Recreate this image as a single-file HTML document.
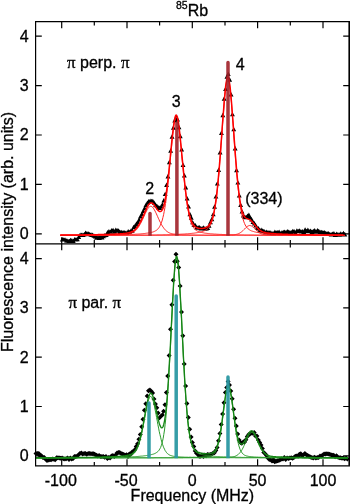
<!DOCTYPE html>
<html lang="en"><head><meta charset="utf-8"><title>85Rb fluorescence spectra</title>
<style>html,body{margin:0;padding:0;background:#fff}svg{display:block}</style></head>
<body>
<svg width="350" height="504" viewBox="0 0 350 504">
<rect width="350" height="504" fill="#fff"/>
<path fill="#000" d="M59.9,241.4L64.8,241.4L62.3,237.0ZM61.2,241.6L66.1,241.6L63.7,237.2ZM62.6,241.6L67.5,241.6L65.0,237.2ZM64.0,242.6L68.9,242.6L66.4,238.2ZM65.3,242.8L70.2,242.8L67.8,238.4ZM66.7,243.1L71.6,243.1L69.2,238.7ZM68.1,242.1L73.0,242.1L70.5,237.7ZM69.5,242.4L74.4,242.4L71.9,238.0ZM70.8,243.1L75.7,243.1L73.3,238.7ZM72.2,241.5L77.1,241.5L74.6,237.1ZM73.6,241.4L78.5,241.4L76.0,237.0ZM74.9,241.3L79.8,241.3L77.4,236.9ZM76.3,238.9L81.2,238.9L78.8,234.5ZM77.7,237.0L82.6,237.0L80.1,232.6ZM79.1,237.0L84.0,237.0L81.5,232.6ZM80.4,237.0L85.3,237.0L82.9,232.6ZM81.8,236.4L86.7,236.4L84.3,232.0ZM83.2,234.9L88.1,234.9L85.6,230.5ZM84.5,235.5L89.4,235.5L87.0,231.1ZM85.9,235.7L90.8,235.7L88.4,231.3ZM87.3,236.2L92.2,236.2L89.7,231.8ZM88.7,236.7L93.6,236.7L91.1,232.3ZM90.0,236.9L94.9,236.9L92.5,232.5ZM91.4,237.8L96.3,237.8L93.9,233.3ZM92.8,238.6L97.7,238.6L95.2,234.2ZM94.1,239.8L99.0,239.8L96.6,235.4ZM95.5,239.2L100.4,239.2L98.0,234.8ZM96.9,239.9L101.8,239.9L99.3,235.5ZM98.3,238.7L103.2,238.7L100.7,234.3ZM99.6,239.6L104.5,239.6L102.1,235.2ZM101.0,238.2L105.9,238.2L103.5,233.8ZM102.4,237.3L107.3,237.3L104.8,232.9ZM103.8,237.1L108.7,237.1L106.2,232.7ZM105.1,234.3L110.0,234.3L107.6,229.9ZM106.5,233.5L111.4,233.5L108.9,229.1ZM107.9,233.8L112.8,233.8L110.3,229.4ZM109.2,232.4L114.1,232.4L111.7,228.0ZM110.6,232.2L115.5,232.2L113.1,227.7ZM112.0,233.7L116.9,233.7L114.4,229.3ZM113.4,231.9L118.3,231.9L115.8,227.5ZM114.7,232.4L119.6,232.4L117.2,227.9ZM116.1,232.7L121.0,232.7L118.5,228.3ZM117.5,233.9L122.4,233.9L119.9,229.5ZM118.8,234.1L123.7,234.1L121.3,229.7ZM120.2,234.6L125.1,234.6L122.7,230.2ZM121.6,234.1L126.5,234.1L124.0,229.7ZM123.0,234.8L127.9,234.8L125.4,230.4ZM124.3,234.9L129.2,234.9L126.8,230.4ZM125.7,233.5L130.6,233.5L128.2,229.1ZM127.1,234.1L132.0,234.1L129.5,229.7ZM128.4,233.0L133.3,233.0L130.9,228.6ZM129.8,232.7L134.7,232.7L132.3,228.3ZM131.2,229.2L136.1,229.2L133.6,224.8ZM132.6,228.0L137.5,228.0L135.0,223.6ZM133.9,226.0L138.8,226.0L136.4,221.6ZM135.3,224.1L140.2,224.1L137.8,219.7ZM136.7,221.8L141.6,221.8L139.1,217.4ZM138.0,218.5L142.9,218.5L140.5,214.1ZM139.4,215.9L144.3,215.9L141.9,211.5ZM140.8,213.1L145.7,213.1L143.2,208.7ZM142.2,210.2L147.1,210.2L144.6,205.7ZM143.5,207.0L148.4,207.0L146.0,202.6ZM144.9,204.8L149.8,204.8L147.4,200.4ZM146.3,203.4L151.2,203.4L148.7,199.0ZM147.7,202.9L152.6,202.9L150.1,198.5ZM149.0,203.1L153.9,203.1L151.5,198.7ZM150.4,203.1L155.3,203.1L152.8,198.7ZM151.8,204.8L156.7,204.8L154.2,200.4ZM153.1,206.8L158.0,206.8L155.6,202.4ZM154.5,208.1L159.4,208.1L157.0,203.7ZM155.9,209.5L160.8,209.5L158.3,205.1ZM157.3,209.9L162.2,209.9L159.7,205.5ZM158.6,208.6L163.5,208.6L161.1,204.2ZM160.0,206.6L164.9,206.6L162.4,202.2ZM161.4,202.4L166.3,202.4L163.8,198.0ZM162.7,196.1L167.6,196.1L165.2,191.7ZM164.1,187.0L169.0,187.0L166.6,182.6ZM165.5,178.5L170.4,178.5L167.9,174.1ZM166.9,164.2L171.8,164.2L169.3,159.8ZM168.2,152.7L173.1,152.7L170.7,148.2ZM169.6,138.8L174.5,138.8L172.0,134.3ZM171.0,129.7L175.9,129.7L173.4,125.3ZM172.3,122.4L177.2,122.4L174.8,118.0ZM173.7,119.4L178.6,119.4L176.2,115.0ZM175.1,121.5L180.0,121.5L177.5,117.1ZM176.5,129.3L181.4,129.3L178.9,124.8ZM177.8,138.2L182.7,138.2L180.3,133.8ZM179.2,151.4L184.1,151.4L181.7,147.0ZM180.6,166.9L185.5,166.9L183.0,162.5ZM181.9,177.5L186.8,177.5L184.4,173.1ZM183.3,189.4L188.2,189.4L185.8,185.0ZM184.7,200.4L189.6,200.4L187.1,196.0ZM186.1,208.5L191.0,208.5L188.5,204.1ZM187.4,216.2L192.3,216.2L189.9,211.8ZM188.8,219.7L193.7,219.7L191.3,215.3ZM190.2,224.3L195.1,224.3L192.6,219.9ZM191.5,226.9L196.4,226.9L194.0,222.5ZM192.9,227.3L197.8,227.3L195.4,222.9ZM194.3,229.7L199.2,229.7L196.7,225.3ZM195.7,229.4L200.6,229.4L198.1,224.9ZM197.0,229.5L201.9,229.5L199.5,225.1ZM198.4,230.5L203.3,230.5L200.9,226.1ZM199.8,230.4L204.7,230.4L202.2,226.0ZM201.2,229.7L206.1,229.7L203.6,225.3ZM202.5,230.7L207.4,230.7L205.0,226.3ZM203.9,230.5L208.8,230.5L206.3,226.1ZM205.3,230.1L210.2,230.1L207.7,225.7ZM206.6,227.8L211.5,227.8L209.1,223.4ZM208.0,224.2L212.9,224.2L210.5,219.8ZM209.4,221.3L214.3,221.3L211.8,216.8ZM210.8,216.3L215.7,216.3L213.2,211.9ZM212.1,208.8L217.0,208.8L214.6,204.3ZM213.5,198.6L218.4,198.6L215.9,194.2ZM214.9,185.6L219.8,185.6L217.3,181.2ZM216.2,172.0L221.1,172.0L218.7,167.6ZM217.6,154.5L222.5,154.5L220.1,150.1ZM219.0,135.0L223.9,135.0L221.4,130.6ZM220.4,117.2L225.3,117.2L222.8,112.8ZM221.7,100.7L226.6,100.7L224.2,96.3ZM223.1,91.0L228.0,91.0L225.6,86.6ZM224.5,78.7L229.4,78.7L226.9,74.3ZM225.8,75.9L230.7,75.9L228.3,71.5ZM227.2,81.7L232.1,81.7L229.7,77.3ZM228.6,96.4L233.5,96.4L231.0,91.9ZM230.0,116.3L234.9,116.3L232.4,111.9ZM231.3,131.3L236.2,131.3L233.8,126.9ZM232.7,150.5L237.6,150.5L235.2,146.1ZM234.1,172.2L239.0,172.2L236.5,167.8ZM235.4,184.6L240.3,184.6L237.9,180.2ZM236.8,197.5L241.7,197.5L239.3,193.1ZM238.2,207.0L243.1,207.0L240.6,202.6ZM239.6,213.6L244.5,213.6L242.0,209.2ZM240.9,217.6L245.8,217.6L243.4,213.2ZM242.3,219.0L247.2,219.0L244.8,214.6ZM243.7,219.3L248.6,219.3L246.1,214.9ZM245.0,217.9L249.9,217.9L247.5,213.5ZM246.4,217.0L251.3,217.0L248.9,212.6ZM247.8,219.3L252.7,219.3L250.2,214.9ZM249.2,221.4L254.1,221.4L251.6,217.0ZM250.5,223.9L255.4,223.9L253.0,219.5ZM251.9,225.4L256.8,225.4L254.4,221.0ZM253.3,227.5L258.2,227.5L255.7,223.0ZM254.7,229.8L259.6,229.8L257.1,225.4ZM256.0,230.5L260.9,230.5L258.5,226.1ZM257.4,232.4L262.3,232.4L259.8,228.0ZM258.8,232.0L263.7,232.0L261.2,227.6ZM260.1,232.7L265.0,232.7L262.6,228.2ZM261.5,233.1L266.4,233.1L264.0,228.7ZM262.9,234.4L267.8,234.4L265.3,230.0ZM264.3,234.0L269.2,234.0L266.7,229.6ZM265.6,234.5L270.5,234.5L268.1,230.1ZM267.0,234.7L271.9,234.7L269.4,230.3ZM268.4,234.7L273.3,234.7L270.8,230.3ZM269.7,235.3L274.6,235.3L272.2,230.9ZM271.1,235.4L276.0,235.4L273.6,230.9ZM272.5,234.0L277.4,234.0L274.9,229.6ZM273.9,234.6L278.8,234.6L276.3,230.2ZM275.2,234.3L280.1,234.3L277.7,229.9ZM276.6,233.8L281.5,233.8L279.1,229.4ZM278.0,235.4L282.9,235.4L280.4,231.0ZM279.3,234.7L284.2,234.7L281.8,230.3ZM280.7,234.1L285.6,234.1L283.2,229.7ZM282.1,233.9L287.0,233.9L284.5,229.5ZM283.5,234.3L288.4,234.3L285.9,229.9ZM284.8,233.4L289.7,233.4L287.3,229.0ZM286.2,233.8L291.1,233.8L288.7,229.4ZM287.6,234.5L292.5,234.5L290.0,230.1ZM288.9,234.3L293.8,234.3L291.4,229.9ZM290.3,233.2L295.2,233.2L292.8,228.8ZM291.7,233.3L296.6,233.3L294.1,228.9ZM293.1,234.7L298.0,234.7L295.5,230.3ZM294.4,232.7L299.3,232.7L296.9,228.3ZM295.8,233.1L300.7,233.1L298.3,228.7ZM297.2,232.7L302.1,232.7L299.6,228.3ZM298.6,233.6L303.5,233.6L301.0,229.2ZM299.9,233.5L304.8,233.5L302.4,229.1ZM301.3,233.9L306.2,233.9L303.7,229.5ZM302.7,231.7L307.6,231.7L305.1,227.2ZM304.0,233.2L308.9,233.2L306.5,228.7ZM305.4,232.0L310.3,232.0L307.9,227.6ZM306.8,233.3L311.7,233.3L309.2,228.9ZM308.2,232.8L313.1,232.8L310.6,228.4ZM309.5,233.9L314.4,233.9L312.0,229.5ZM310.9,233.1L315.8,233.1L313.3,228.7ZM312.3,232.4L317.2,232.4L314.7,228.0ZM313.6,233.8L318.5,233.8L316.1,229.4ZM315.0,232.5L319.9,232.5L317.5,228.1ZM316.4,233.1L321.3,233.1L318.8,228.7ZM317.8,234.1L322.7,234.1L320.2,229.7ZM319.1,234.1L324.0,234.1L321.6,229.7ZM320.5,234.4L325.4,234.4L322.9,229.9ZM321.9,234.5L326.8,234.5L324.3,230.1ZM323.2,235.1L328.1,235.1L325.7,230.7ZM324.6,235.5L329.5,235.5L327.1,231.1ZM326.0,235.5L330.9,235.5L328.4,231.1ZM327.4,236.1L332.3,236.1L329.8,231.7ZM328.7,236.4L333.6,236.4L331.2,232.0ZM330.1,235.8L335.0,235.8L332.6,231.4ZM331.5,235.4L336.4,235.4L333.9,231.0ZM332.8,236.9L337.7,236.9L335.3,232.4ZM334.2,236.0L339.1,236.0L336.7,231.6ZM335.6,236.4L340.5,236.4L338.0,232.0ZM337.0,236.7L341.9,236.7L339.4,232.3ZM338.3,235.6L343.2,235.6L340.8,231.2ZM339.7,236.4L344.6,236.4L342.2,232.0ZM341.1,235.2L346.0,235.2L343.5,230.8ZM342.4,236.5L347.3,236.5L344.9,232.1Z"/>
<path fill="#000" d="M33.5,453.6L36.0,456.1L38.5,453.6L36.0,451.1ZM34.9,453.6L37.4,456.1L39.9,453.6L37.4,451.1ZM36.3,453.4L38.8,455.9L41.3,453.4L38.8,450.9ZM37.7,456.1L40.2,458.6L42.7,456.1L40.2,453.6ZM39.0,455.8L41.5,458.3L44.0,455.8L41.5,453.3ZM40.4,457.6L42.9,460.1L45.4,457.6L42.9,455.1ZM41.8,457.6L44.3,460.1L46.8,457.6L44.3,455.1ZM43.1,459.2L45.6,461.7L48.1,459.2L45.6,456.7ZM44.5,460.4L47.0,462.9L49.5,460.4L47.0,457.9ZM45.9,460.1L48.4,462.6L50.9,460.1L48.4,457.6ZM47.3,459.7L49.8,462.2L52.3,459.7L49.8,457.2ZM48.6,459.8L51.1,462.3L53.6,459.8L51.1,457.3ZM50.0,459.1L52.5,461.6L55.0,459.1L52.5,456.6ZM51.4,459.2L53.9,461.7L56.4,459.2L53.9,456.7ZM52.7,459.7L55.2,462.2L57.7,459.7L55.2,457.2ZM54.1,457.7L56.6,460.2L59.1,457.7L56.6,455.2ZM55.5,457.8L58.0,460.3L60.5,457.8L58.0,455.3ZM56.9,458.1L59.4,460.6L61.9,458.1L59.4,455.6ZM58.2,458.3L60.7,460.8L63.2,458.3L60.7,455.8ZM59.6,457.9L62.1,460.4L64.6,457.9L62.1,455.4ZM61.0,458.8L63.5,461.3L66.0,458.8L63.5,456.3ZM62.4,459.0L64.9,461.5L67.4,459.0L64.9,456.5ZM63.7,458.8L66.2,461.3L68.7,458.8L66.2,456.3ZM65.1,458.1L67.6,460.6L70.1,458.1L67.6,455.6ZM66.5,459.6L69.0,462.1L71.5,459.6L69.0,457.1ZM67.8,458.0L70.3,460.5L72.8,458.0L70.3,455.5ZM69.2,458.9L71.7,461.4L74.2,458.9L71.7,456.4ZM70.6,458.6L73.1,461.1L75.6,458.6L73.1,456.1ZM72.0,456.5L74.5,459.0L77.0,456.5L74.5,454.0ZM73.3,456.4L75.8,458.9L78.3,456.4L75.8,453.9ZM74.7,456.1L77.2,458.6L79.7,456.1L77.2,453.6ZM76.1,454.8L78.6,457.3L81.1,454.8L78.6,452.3ZM77.4,453.5L79.9,456.0L82.4,453.5L79.9,451.0ZM78.8,453.1L81.3,455.6L83.8,453.1L81.3,450.6ZM80.2,454.0L82.7,456.5L85.2,454.0L82.7,451.5ZM81.6,453.5L84.1,456.0L86.6,453.5L84.1,451.0ZM82.9,453.4L85.4,455.9L87.9,453.4L85.4,450.9ZM84.3,454.2L86.8,456.7L89.3,454.2L86.8,451.7ZM85.7,453.5L88.2,456.0L90.7,453.5L88.2,451.0ZM87.0,453.6L89.5,456.1L92.0,453.6L89.5,451.1ZM88.4,453.8L90.9,456.3L93.4,453.8L90.9,451.3ZM89.8,453.8L92.3,456.3L94.8,453.8L92.3,451.3ZM91.2,453.8L93.7,456.3L96.2,453.8L93.7,451.3ZM92.5,454.4L95.0,456.9L97.5,454.4L95.0,451.9ZM93.9,455.3L96.4,457.8L98.9,455.3L96.4,452.8ZM95.3,455.9L97.8,458.4L100.3,455.9L97.8,453.4ZM96.6,455.5L99.1,458.0L101.6,455.5L99.1,453.0ZM98.0,456.4L100.5,458.9L103.0,456.4L100.5,453.9ZM99.4,456.4L101.9,458.9L104.4,456.4L101.9,453.9ZM100.8,456.5L103.3,459.0L105.8,456.5L103.3,454.0ZM102.1,457.2L104.6,459.7L107.1,457.2L104.6,454.7ZM103.5,456.4L106.0,458.9L108.5,456.4L106.0,453.9ZM104.9,458.4L107.4,460.9L109.9,458.4L107.4,455.9ZM106.2,457.5L108.7,460.0L111.2,457.5L108.7,455.0ZM107.6,457.9L110.1,460.4L112.6,457.9L110.1,455.4ZM109.0,456.1L111.5,458.6L114.0,456.1L111.5,453.6ZM110.4,455.4L112.9,457.9L115.4,455.4L112.9,452.9ZM111.7,456.6L114.2,459.1L116.7,456.6L114.2,454.1ZM113.1,454.9L115.6,457.4L118.1,454.9L115.6,452.4ZM114.5,453.1L117.0,455.6L119.5,453.1L117.0,450.6ZM115.9,452.6L118.4,455.1L120.9,452.6L118.4,450.1ZM117.2,452.6L119.7,455.1L122.2,452.6L119.7,450.1ZM118.6,453.5L121.1,456.0L123.6,453.5L121.1,451.0ZM120.0,453.9L122.5,456.4L125.0,453.9L122.5,451.4ZM121.3,454.4L123.8,456.9L126.3,454.4L123.8,451.9ZM122.7,455.2L125.2,457.7L127.7,455.2L125.2,452.7ZM124.1,454.7L126.6,457.2L129.1,454.7L126.6,452.2ZM125.5,456.4L128.0,458.9L130.5,456.4L128.0,453.9ZM126.8,454.1L129.3,456.6L131.8,454.1L129.3,451.6ZM128.2,454.3L130.7,456.8L133.2,454.3L130.7,451.8ZM129.6,451.9L132.1,454.4L134.6,451.9L132.1,449.4ZM130.9,451.3L133.4,453.8L135.9,451.3L133.4,448.8ZM132.3,449.7L134.8,452.2L137.3,449.7L134.8,447.2ZM133.7,446.4L136.2,448.9L138.7,446.4L136.2,443.9ZM135.1,443.7L137.6,446.2L140.1,443.7L137.6,441.2ZM136.4,439.3L138.9,441.8L141.4,439.3L138.9,436.8ZM137.8,434.4L140.3,436.9L142.8,434.4L140.3,431.9ZM139.2,426.8L141.7,429.3L144.2,426.8L141.7,424.3ZM140.5,419.2L143.0,421.7L145.5,419.2L143.0,416.7ZM141.9,410.3L144.4,412.8L146.9,410.3L144.4,407.8ZM143.3,403.8L145.8,406.3L148.3,403.8L145.8,401.3ZM144.7,395.9L147.2,398.4L149.7,395.9L147.2,393.4ZM146.0,390.7L148.5,393.2L151.0,390.7L148.5,388.2ZM147.4,390.0L149.9,392.5L152.4,390.0L149.9,387.5ZM148.8,391.2L151.3,393.7L153.8,391.2L151.3,388.7ZM150.1,393.0L152.6,395.5L155.1,393.0L152.6,390.5ZM151.5,398.9L154.0,401.4L156.5,398.9L154.0,396.4ZM152.9,404.1L155.4,406.6L157.9,404.1L155.4,401.6ZM154.3,407.8L156.8,410.3L159.3,407.8L156.8,405.3ZM155.6,413.1L158.1,415.6L160.6,413.1L158.1,410.6ZM157.0,417.7L159.5,420.2L162.0,417.7L159.5,415.2ZM158.4,416.2L160.9,418.7L163.4,416.2L160.9,413.7ZM159.8,415.1L162.3,417.6L164.8,415.1L162.3,412.6ZM161.1,411.3L163.6,413.8L166.1,411.3L163.6,408.8ZM162.5,404.8L165.0,407.3L167.5,404.8L165.0,402.3ZM163.9,392.5L166.4,395.0L168.9,392.5L166.4,390.0ZM165.2,376.0L167.7,378.5L170.2,376.0L167.7,373.5ZM166.6,355.5L169.1,358.0L171.6,355.5L169.1,353.0ZM168.0,329.3L170.5,331.8L173.0,329.3L170.5,326.8ZM169.4,304.8L171.9,307.3L174.4,304.8L171.9,302.3ZM170.7,280.3L173.2,282.8L175.7,280.3L173.2,277.8ZM172.1,261.5L174.6,264.0L177.1,261.5L174.6,259.0ZM173.5,254.3L176.0,256.8L178.5,254.3L176.0,251.8ZM174.8,261.2L177.3,263.7L179.8,261.2L177.3,258.7ZM176.2,267.6L178.7,270.1L181.2,267.6L178.7,265.1ZM177.6,286.0L180.1,288.5L182.6,286.0L180.1,283.5ZM179.0,312.0L181.5,314.5L184.0,312.0L181.5,309.5ZM180.3,335.8L182.8,338.3L185.3,335.8L182.8,333.3ZM181.7,364.0L184.2,366.5L186.7,364.0L184.2,361.5ZM183.1,385.9L185.6,388.4L188.1,385.9L185.6,383.4ZM184.4,403.5L186.9,406.0L189.4,403.5L186.9,401.0ZM185.8,417.4L188.3,419.9L190.8,417.4L188.3,414.9ZM187.2,429.3L189.7,431.8L192.2,429.3L189.7,426.8ZM188.6,437.1L191.1,439.6L193.6,437.1L191.1,434.6ZM189.9,442.6L192.4,445.1L194.9,442.6L192.4,440.1ZM191.3,446.6L193.8,449.1L196.3,446.6L193.8,444.1ZM192.7,450.9L195.2,453.4L197.7,450.9L195.2,448.4ZM194.0,453.2L196.5,455.7L199.0,453.2L196.5,450.7ZM195.4,454.5L197.9,457.0L200.4,454.5L197.9,452.0ZM196.8,456.3L199.3,458.8L201.8,456.3L199.3,453.8ZM198.2,456.3L200.7,458.8L203.2,456.3L200.7,453.8ZM199.5,455.0L202.0,457.5L204.5,455.0L202.0,452.5ZM200.9,456.5L203.4,459.0L205.9,456.5L203.4,454.0ZM202.3,455.1L204.8,457.6L207.3,455.1L204.8,452.6ZM203.6,455.7L206.1,458.2L208.6,455.7L206.1,453.2ZM205.0,454.4L207.5,456.9L210.0,454.4L207.5,451.9ZM206.4,454.7L208.9,457.2L211.4,454.7L208.9,452.2ZM207.8,454.6L210.3,457.1L212.8,454.6L210.3,452.1ZM209.1,454.2L211.6,456.7L214.1,454.2L211.6,451.7ZM210.5,453.2L213.0,455.7L215.5,453.2L213.0,450.7ZM211.9,452.8L214.4,455.3L216.9,452.8L214.4,450.3ZM213.3,450.6L215.8,453.1L218.3,450.6L215.8,448.1ZM214.6,447.5L217.1,450.0L219.6,447.5L217.1,445.0ZM216.0,440.7L218.5,443.2L221.0,440.7L218.5,438.2ZM217.4,433.5L219.9,436.0L222.4,433.5L219.9,431.0ZM218.7,424.4L221.2,426.9L223.7,424.4L221.2,421.9ZM220.1,414.1L222.6,416.6L225.1,414.1L222.6,411.6ZM221.5,402.7L224.0,405.2L226.5,402.7L224.0,400.2ZM222.9,392.5L225.4,395.0L227.9,392.5L225.4,390.0ZM224.2,387.6L226.7,390.1L229.2,387.6L226.7,385.1ZM225.6,381.5L228.1,384.0L230.6,381.5L228.1,379.0ZM227.0,385.1L229.5,387.6L232.0,385.1L229.5,382.6ZM228.3,391.1L230.8,393.6L233.3,391.1L230.8,388.6ZM229.7,398.7L232.2,401.2L234.7,398.7L232.2,396.2ZM231.1,409.3L233.6,411.8L236.1,409.3L233.6,406.8ZM232.5,418.2L235.0,420.7L237.5,418.2L235.0,415.7ZM233.8,426.1L236.3,428.6L238.8,426.1L236.3,423.6ZM235.2,434.0L237.7,436.5L240.2,434.0L237.7,431.5ZM236.6,440.0L239.1,442.5L241.6,440.0L239.1,437.5ZM237.9,442.4L240.4,444.9L242.9,442.4L240.4,439.9ZM239.3,443.2L241.8,445.7L244.3,443.2L241.8,440.7ZM240.7,442.0L243.2,444.5L245.7,442.0L243.2,439.5ZM242.1,442.0L244.6,444.5L247.1,442.0L244.6,439.5ZM243.4,439.8L245.9,442.3L248.4,439.8L245.9,437.3ZM244.8,436.4L247.3,438.9L249.8,436.4L247.3,433.9ZM246.2,434.5L248.7,437.0L251.2,434.5L248.7,432.0ZM247.5,433.9L250.0,436.4L252.5,433.9L250.0,431.4ZM248.9,433.1L251.4,435.6L253.9,433.1L251.4,430.6ZM250.3,433.3L252.8,435.8L255.3,433.3L252.8,430.8ZM251.7,432.6L254.2,435.1L256.7,432.6L254.2,430.1ZM253.0,436.1L255.5,438.6L258.0,436.1L255.5,433.6ZM254.4,436.1L256.9,438.6L259.4,436.1L256.9,433.6ZM255.8,440.0L258.3,442.5L260.8,440.0L258.3,437.5ZM257.2,442.4L259.7,444.9L262.2,442.4L259.7,439.9ZM258.5,444.9L261.0,447.4L263.5,444.9L261.0,442.4ZM259.9,448.5L262.4,451.0L264.9,448.5L262.4,446.0ZM261.3,452.6L263.8,455.1L266.3,452.6L263.8,450.1ZM262.6,453.7L265.1,456.2L267.6,453.7L265.1,451.2ZM264.0,455.4L266.5,457.9L269.0,455.4L266.5,452.9ZM265.4,458.1L267.9,460.6L270.4,458.1L267.9,455.6ZM266.8,459.4L269.3,461.9L271.8,459.4L269.3,456.9ZM268.1,459.8L270.6,462.3L273.1,459.8L270.6,457.3ZM269.5,461.0L272.0,463.5L274.5,461.0L272.0,458.5ZM270.9,459.4L273.4,461.9L275.9,459.4L273.4,456.9ZM272.2,461.8L274.7,464.3L277.2,461.8L274.7,459.3ZM273.6,461.2L276.1,463.7L278.6,461.2L276.1,458.7ZM275.0,460.8L277.5,463.3L280.0,460.8L277.5,458.3ZM276.4,460.6L278.9,463.1L281.4,460.6L278.9,458.1ZM277.7,459.8L280.2,462.3L282.7,459.8L280.2,457.3ZM279.1,459.1L281.6,461.6L284.1,459.1L281.6,456.6ZM280.5,458.9L283.0,461.4L285.5,458.9L283.0,456.4ZM281.8,457.6L284.3,460.1L286.8,457.6L284.3,455.1ZM283.2,459.4L285.7,461.9L288.2,459.4L285.7,456.9ZM284.6,458.0L287.1,460.5L289.6,458.0L287.1,455.5ZM286.0,458.4L288.5,460.9L291.0,458.4L288.5,455.9ZM287.3,458.0L289.8,460.5L292.3,458.0L289.8,455.5ZM288.7,457.8L291.2,460.3L293.7,457.8L291.2,455.3ZM290.1,458.3L292.6,460.8L295.1,458.3L292.6,455.8ZM291.4,457.6L293.9,460.1L296.4,457.6L293.9,455.1ZM292.8,456.3L295.3,458.8L297.8,456.3L295.3,453.8ZM294.2,456.0L296.7,458.5L299.2,456.0L296.7,453.5ZM295.6,456.2L298.1,458.7L300.6,456.2L298.1,453.7ZM296.9,454.3L299.4,456.8L301.9,454.3L299.4,451.8ZM298.3,453.8L300.8,456.3L303.3,453.8L300.8,451.3ZM299.7,455.9L302.2,458.4L304.7,455.9L302.2,453.4ZM301.0,454.7L303.5,457.2L306.0,454.7L303.5,452.2ZM302.4,453.5L304.9,456.0L307.4,453.5L304.9,451.0ZM303.8,454.8L306.3,457.3L308.8,454.8L306.3,452.3ZM305.2,455.5L307.7,458.0L310.2,455.5L307.7,453.0ZM306.5,456.3L309.0,458.8L311.5,456.3L309.0,453.8ZM307.9,457.0L310.4,459.5L312.9,457.0L310.4,454.5ZM309.3,457.4L311.8,459.9L314.3,457.4L311.8,454.9ZM310.7,458.0L313.2,460.5L315.7,458.0L313.2,455.5ZM312.0,457.3L314.5,459.8L317.0,457.3L314.5,454.8ZM313.4,457.9L315.9,460.4L318.4,457.9L315.9,455.4ZM314.8,457.5L317.3,460.0L319.8,457.5L317.3,455.0ZM316.1,457.4L318.6,459.9L321.1,457.4L318.6,454.9ZM317.5,456.1L320.0,458.6L322.5,456.1L320.0,453.6ZM318.9,456.0L321.4,458.5L323.9,456.0L321.4,453.5ZM320.3,455.1L322.8,457.6L325.3,455.1L322.8,452.6ZM321.6,453.9L324.1,456.4L326.6,453.9L324.1,451.4ZM323.0,454.0L325.5,456.5L328.0,454.0L325.5,451.5ZM324.4,453.8L326.9,456.3L329.4,453.8L326.9,451.3ZM325.7,453.9L328.2,456.4L330.7,453.9L328.2,451.4ZM327.1,454.3L329.6,456.8L332.1,454.3L329.6,451.8ZM328.5,454.8L331.0,457.3L333.5,454.8L331.0,452.3ZM329.9,455.3L332.4,457.8L334.9,455.3L332.4,452.8ZM331.2,455.2L333.7,457.7L336.2,455.2L333.7,452.7ZM332.6,456.7L335.1,459.2L337.6,456.7L335.1,454.2ZM334.0,455.7L336.5,458.2L339.0,455.7L336.5,453.2ZM335.3,456.9L337.8,459.4L340.3,456.9L337.8,454.4ZM336.7,457.7L339.2,460.2L341.7,457.7L339.2,455.2ZM338.1,457.8L340.6,460.3L343.1,457.8L340.6,455.3ZM339.5,458.3L342.0,460.8L344.5,458.3L342.0,455.8ZM340.8,458.1L343.3,460.6L345.8,458.1L343.3,455.6ZM342.2,458.8L344.7,461.3L347.2,458.8L344.7,456.3ZM343.6,457.9L346.1,460.4L348.6,457.9L346.1,455.4ZM344.9,459.1L347.4,461.6L349.9,459.1L347.4,456.6Z"/>
<path fill="none" stroke="#ff2424" stroke-width="1.0" d="M60.3,235.3 L61.0,235.3 L61.7,235.3 L62.3,235.3 L63.0,235.3 L63.6,235.3 L64.3,235.3 L64.9,235.3 L65.6,235.3 L66.2,235.3 L66.9,235.3 L67.5,235.3 L68.2,235.3 L68.8,235.3 L69.5,235.3 L70.1,235.3 L70.8,235.3 L71.4,235.3 L72.1,235.3 L72.8,235.3 L73.4,235.3 L74.1,235.3 L74.7,235.3 L75.4,235.3 L76.0,235.3 L76.7,235.3 L77.3,235.3 L78.0,235.3 L78.6,235.3 L79.3,235.2 L79.9,235.2 L80.6,235.2 L81.2,235.2 L81.9,235.2 L82.6,235.2 L83.2,235.2 L83.9,235.2 L84.5,235.2 L85.2,235.2 L85.8,235.2 L86.5,235.2 L87.1,235.2 L87.8,235.2 L88.4,235.2 L89.1,235.2 L89.7,235.2 L90.4,235.2 L91.0,235.2 L91.7,235.2 L92.4,235.2 L93.0,235.2 L93.7,235.2 L94.3,235.2 L95.0,235.2 L95.6,235.2 L96.3,235.2 L96.9,235.2 L97.6,235.1 L98.2,235.1 L98.9,235.1 L99.5,235.1 L100.2,235.1 L100.8,235.1 L101.5,235.1 L102.2,235.1 L102.8,235.1 L103.5,235.1 L104.1,235.1 L104.8,235.1 L105.4,235.1 L106.1,235.1 L106.7,235.0 L107.4,235.0 L108.0,235.0 L108.7,235.0 L109.3,235.0 L110.0,235.0 L110.6,235.0 L111.3,235.0 L112.0,235.0 L112.6,234.9 L113.3,234.9 L113.9,234.9 L114.6,234.9 L115.2,234.9 L115.9,234.9 L116.5,234.8 L117.2,234.8 L117.8,234.8 L118.5,234.8 L119.1,234.7 L119.8,234.7 L120.4,234.7 L121.1,234.7 L121.7,234.6 L122.4,234.6 L123.1,234.6 L123.7,234.5 L124.4,234.5 L125.0,234.4 L125.7,234.3 L126.3,234.3 L127.0,234.2 L127.6,234.1 L128.3,234.0 L128.9,233.9 L129.6,233.7 L130.2,233.5 L130.9,233.3 L131.5,233.1 L132.2,232.8 L132.9,232.5 L133.5,232.1 L134.2,231.7 L134.8,231.2 L135.5,230.7 L136.1,230.0 L136.8,229.3 L137.4,228.5 L138.1,227.7 L138.7,226.7 L139.4,225.7 L140.0,224.5 L140.7,223.3 L141.3,222.0 L142.0,220.7 L142.7,219.3 L143.3,217.9 L144.0,216.4 L144.6,214.9 L145.3,213.5 L145.9,212.1 L146.6,210.8 L147.2,209.6 L147.9,208.6 L148.5,207.7 L149.2,207.0 L149.8,206.5 L150.5,206.3 L151.1,206.3 L151.8,206.6 L152.5,207.1 L153.1,207.8 L153.8,208.8 L154.4,209.9 L155.1,211.1 L155.7,212.4 L156.4,213.8 L157.0,215.2 L157.7,216.7 L158.3,218.2 L159.0,219.6 L159.6,221.0 L160.3,222.3 L160.9,223.6 L161.6,224.8 L162.3,225.9 L162.9,226.9 L163.6,227.8 L164.2,228.7 L164.9,229.5 L165.5,230.2 L166.2,230.8 L166.8,231.3 L167.5,231.8 L168.1,232.2 L168.8,232.6 L169.4,232.9 L170.1,233.2 L170.7,233.4 L171.4,233.6 L172.0,233.7 L172.7,233.9 L173.4,234.0 L174.0,234.1 L174.7,234.2 L175.3,234.3 L176.0,234.4 L176.6,234.4 L177.3,234.5 L177.9,234.5 L178.6,234.6 L179.2,234.6 L179.9,234.6 L180.5,234.7 L181.2,234.7 L181.8,234.7 L182.5,234.8 L183.2,234.8 L183.8,234.8 L184.5,234.8 L185.1,234.8 L185.8,234.9 L186.4,234.9 L187.1,234.9 L187.7,234.9 L188.4,234.9 L189.0,234.9 L189.7,235.0 L190.3,235.0 L191.0,235.0 L191.6,235.0 L192.3,235.0 L193.0,235.0 L193.6,235.0 L194.3,235.0 L194.9,235.0 L195.6,235.1 L196.2,235.1 L196.9,235.1 L197.5,235.1 L198.2,235.1 L198.8,235.1 L199.5,235.1 L200.1,235.1 L200.8,235.1 L201.4,235.1 L202.1,235.1 L202.8,235.1 L203.4,235.1 L204.1,235.1 L204.7,235.2 L205.4,235.2 L206.0,235.2 L206.7,235.2 L207.3,235.2 L208.0,235.2 L208.6,235.2 L209.3,235.2 L209.9,235.2 L210.6,235.2 L211.2,235.2 L211.9,235.2 L212.6,235.2 L213.2,235.2 L213.9,235.2 L214.5,235.2 L215.2,235.2 L215.8,235.2 L216.5,235.2 L217.1,235.2 L217.8,235.2 L218.4,235.2 L219.1,235.2 L219.7,235.2 L220.4,235.2 L221.0,235.2 L221.7,235.2 L222.3,235.3 L223.0,235.3 L223.7,235.3 L224.3,235.3 L225.0,235.3 L225.6,235.3 L226.3,235.3 L226.9,235.3 L227.6,235.3 L228.2,235.3 L228.9,235.3 L229.5,235.3 L230.2,235.3 L230.8,235.3 L231.5,235.3 L232.1,235.3 L232.8,235.3 L233.5,235.3 L234.1,235.3 L234.8,235.3 L235.4,235.3 L236.1,235.3 L236.7,235.3 L237.4,235.3 L238.0,235.3 L238.7,235.3 L239.3,235.3 L240.0,235.3 L240.6,235.3 L241.3,235.3 L241.9,235.3 L242.6,235.3 L243.3,235.3 L243.9,235.3 L244.6,235.3 L245.2,235.3 L245.9,235.3 L246.5,235.3 L247.2,235.3 L247.8,235.3 L248.5,235.3 L249.1,235.3 L249.8,235.3 L250.4,235.3 L251.1,235.3 L251.7,235.3 L252.4,235.3 L253.1,235.3 L253.7,235.3 L254.4,235.3 L255.0,235.3 L255.7,235.3 L256.3,235.3 L257.0,235.3 L257.6,235.3 L258.3,235.3 L258.9,235.3 L259.6,235.3 L260.2,235.3 L260.9,235.3 L261.5,235.3 L262.2,235.3 L262.9,235.3 L263.5,235.3 L264.2,235.3 L264.8,235.3 L265.5,235.3 L266.1,235.3 L266.8,235.3 L267.4,235.3 L268.1,235.3 L268.7,235.3 L269.4,235.3 L270.0,235.3 L270.7,235.3 L271.3,235.3 L272.0,235.3 L272.6,235.3 L273.3,235.3 L274.0,235.3 L274.6,235.3 L275.3,235.3 L275.9,235.3 L276.6,235.3 L277.2,235.3 L277.9,235.3 L278.5,235.3 L279.2,235.3 L279.8,235.3 L280.5,235.3 L281.1,235.3 L281.8,235.3 L282.4,235.3 L283.1,235.3 L283.8,235.3 L284.4,235.3 L285.1,235.3 L285.7,235.3 L286.4,235.3 L287.0,235.3 L287.7,235.3 L288.3,235.3 L289.0,235.3 L289.6,235.3 L290.3,235.3 L290.9,235.3 L291.6,235.3 L292.2,235.3 L292.9,235.3 L293.6,235.3 L294.2,235.3 L294.9,235.3 L295.5,235.3 L296.2,235.3 L296.8,235.3 L297.5,235.3 L298.1,235.3 L298.8,235.3 L299.4,235.4 L300.1,235.4 L300.7,235.4 L301.4,235.4 L302.0,235.4 L302.7,235.4 L303.4,235.4 L304.0,235.4 L304.7,235.4 L305.3,235.4 L306.0,235.4 L306.6,235.4 L307.3,235.4 L307.9,235.4 L308.6,235.4 L309.2,235.4 L309.9,235.4 L310.5,235.4 L311.2,235.4 L311.8,235.4 L312.5,235.4 L313.2,235.4 L313.8,235.4 L314.5,235.4 L315.1,235.4 L315.8,235.4 L316.4,235.4 L317.1,235.4 L317.7,235.4 L318.4,235.4 L319.0,235.4 L319.7,235.4 L320.3,235.4 L321.0,235.4 L321.6,235.4 L322.3,235.4 L323.0,235.4 L323.6,235.4 L324.3,235.4 L324.9,235.4 L325.6,235.4 L326.2,235.4 L326.9,235.4 L327.5,235.4 L328.2,235.4 L328.8,235.4 L329.5,235.4 L330.1,235.4 L330.8,235.4 L331.4,235.4 L332.1,235.4 L332.7,235.4 L333.4,235.4 L334.1,235.4 L334.7,235.4 L335.4,235.4 L336.0,235.4 L336.7,235.4 L337.3,235.4 L338.0,235.4 L338.6,235.4 L339.3,235.4 L339.9,235.4 L340.6,235.4 L341.2,235.4 L341.9,235.4 L342.5,235.4 L343.2,235.4 L343.9,235.4 L344.5,235.4"/>
<path fill="none" stroke="#ff2424" stroke-width="1.0" d="M60.3,235.2 L61.0,235.2 L61.7,235.2 L62.3,235.2 L63.0,235.2 L63.6,235.2 L64.3,235.2 L64.9,235.2 L65.6,235.2 L66.2,235.2 L66.9,235.2 L67.5,235.2 L68.2,235.2 L68.8,235.2 L69.5,235.2 L70.1,235.2 L70.8,235.2 L71.4,235.2 L72.1,235.2 L72.8,235.2 L73.4,235.2 L74.1,235.2 L74.7,235.2 L75.4,235.2 L76.0,235.2 L76.7,235.2 L77.3,235.2 L78.0,235.2 L78.6,235.2 L79.3,235.2 L79.9,235.2 L80.6,235.2 L81.2,235.2 L81.9,235.2 L82.6,235.2 L83.2,235.2 L83.9,235.1 L84.5,235.1 L85.2,235.1 L85.8,235.1 L86.5,235.1 L87.1,235.1 L87.8,235.1 L88.4,235.1 L89.1,235.1 L89.7,235.1 L90.4,235.1 L91.0,235.1 L91.7,235.1 L92.4,235.1 L93.0,235.1 L93.7,235.1 L94.3,235.1 L95.0,235.1 L95.6,235.1 L96.3,235.1 L96.9,235.1 L97.6,235.1 L98.2,235.1 L98.9,235.0 L99.5,235.0 L100.2,235.0 L100.8,235.0 L101.5,235.0 L102.2,235.0 L102.8,235.0 L103.5,235.0 L104.1,235.0 L104.8,235.0 L105.4,235.0 L106.1,235.0 L106.7,235.0 L107.4,235.0 L108.0,235.0 L108.7,234.9 L109.3,234.9 L110.0,234.9 L110.6,234.9 L111.3,234.9 L112.0,234.9 L112.6,234.9 L113.3,234.9 L113.9,234.9 L114.6,234.9 L115.2,234.9 L115.9,234.8 L116.5,234.8 L117.2,234.8 L117.8,234.8 L118.5,234.8 L119.1,234.8 L119.8,234.8 L120.4,234.7 L121.1,234.7 L121.7,234.7 L122.4,234.7 L123.1,234.7 L123.7,234.7 L124.4,234.7 L125.0,234.6 L125.7,234.6 L126.3,234.6 L127.0,234.6 L127.6,234.6 L128.3,234.5 L128.9,234.5 L129.6,234.5 L130.2,234.5 L130.9,234.4 L131.5,234.4 L132.2,234.4 L132.9,234.3 L133.5,234.3 L134.2,234.3 L134.8,234.3 L135.5,234.2 L136.1,234.2 L136.8,234.1 L137.4,234.1 L138.1,234.1 L138.7,234.0 L139.4,234.0 L140.0,233.9 L140.7,233.9 L141.3,233.8 L142.0,233.8 L142.7,233.7 L143.3,233.6 L144.0,233.6 L144.6,233.5 L145.3,233.4 L145.9,233.3 L146.6,233.2 L147.2,233.1 L147.9,233.1 L148.5,232.9 L149.2,232.8 L149.8,232.7 L150.5,232.6 L151.1,232.4 L151.8,232.3 L152.5,232.1 L153.1,231.9 L153.8,231.7 L154.4,231.4 L155.1,231.1 L155.7,230.7 L156.4,230.3 L157.0,229.8 L157.7,229.2 L158.3,228.5 L159.0,227.6 L159.6,226.6 L160.3,225.3 L160.9,223.8 L161.6,222.1 L162.3,220.0 L162.9,217.6 L163.6,214.7 L164.2,211.5 L164.9,207.8 L165.5,203.6 L166.2,199.0 L166.8,193.8 L167.5,188.2 L168.1,182.2 L168.8,175.8 L169.4,169.1 L170.1,162.2 L170.7,155.3 L171.4,148.4 L172.0,141.7 L172.7,135.4 L173.4,129.8 L174.0,124.9 L174.7,121.1 L175.3,118.5 L176.0,117.2 L176.6,117.2 L177.3,118.7 L177.9,121.5 L178.6,125.4 L179.2,130.4 L179.9,136.1 L180.5,142.5 L181.2,149.2 L181.8,156.1 L182.5,163.1 L183.2,169.9 L183.8,176.6 L184.5,182.9 L185.1,188.9 L185.8,194.5 L186.4,199.5 L187.1,204.1 L187.7,208.3 L188.4,211.9 L189.0,215.1 L189.7,217.9 L190.3,220.3 L191.0,222.3 L191.6,224.0 L192.3,225.5 L193.0,226.7 L193.6,227.7 L194.3,228.6 L194.9,229.3 L195.6,229.9 L196.2,230.4 L196.9,230.8 L197.5,231.1 L198.2,231.4 L198.8,231.7 L199.5,231.9 L200.1,232.1 L200.8,232.3 L201.4,232.4 L202.1,232.6 L202.8,232.7 L203.4,232.8 L204.1,233.0 L204.7,233.1 L205.4,233.2 L206.0,233.3 L206.7,233.3 L207.3,233.4 L208.0,233.5 L208.6,233.6 L209.3,233.6 L209.9,233.7 L210.6,233.8 L211.2,233.8 L211.9,233.9 L212.6,233.9 L213.2,234.0 L213.9,234.0 L214.5,234.1 L215.2,234.1 L215.8,234.1 L216.5,234.2 L217.1,234.2 L217.8,234.3 L218.4,234.3 L219.1,234.3 L219.7,234.4 L220.4,234.4 L221.0,234.4 L221.7,234.4 L222.3,234.5 L223.0,234.5 L223.7,234.5 L224.3,234.5 L225.0,234.6 L225.6,234.6 L226.3,234.6 L226.9,234.6 L227.6,234.6 L228.2,234.7 L228.9,234.7 L229.5,234.7 L230.2,234.7 L230.8,234.7 L231.5,234.7 L232.1,234.8 L232.8,234.8 L233.5,234.8 L234.1,234.8 L234.8,234.8 L235.4,234.8 L236.1,234.8 L236.7,234.8 L237.4,234.9 L238.0,234.9 L238.7,234.9 L239.3,234.9 L240.0,234.9 L240.6,234.9 L241.3,234.9 L241.9,234.9 L242.6,234.9 L243.3,234.9 L243.9,234.9 L244.6,235.0 L245.2,235.0 L245.9,235.0 L246.5,235.0 L247.2,235.0 L247.8,235.0 L248.5,235.0 L249.1,235.0 L249.8,235.0 L250.4,235.0 L251.1,235.0 L251.7,235.0 L252.4,235.0 L253.1,235.0 L253.7,235.0 L254.4,235.1 L255.0,235.1 L255.7,235.1 L256.3,235.1 L257.0,235.1 L257.6,235.1 L258.3,235.1 L258.9,235.1 L259.6,235.1 L260.2,235.1 L260.9,235.1 L261.5,235.1 L262.2,235.1 L262.9,235.1 L263.5,235.1 L264.2,235.1 L264.8,235.1 L265.5,235.1 L266.1,235.1 L266.8,235.1 L267.4,235.1 L268.1,235.1 L268.7,235.1 L269.4,235.2 L270.0,235.2 L270.7,235.2 L271.3,235.2 L272.0,235.2 L272.6,235.2 L273.3,235.2 L274.0,235.2 L274.6,235.2 L275.3,235.2 L275.9,235.2 L276.6,235.2 L277.2,235.2 L277.9,235.2 L278.5,235.2 L279.2,235.2 L279.8,235.2 L280.5,235.2 L281.1,235.2 L281.8,235.2 L282.4,235.2 L283.1,235.2 L283.8,235.2 L284.4,235.2 L285.1,235.2 L285.7,235.2 L286.4,235.2 L287.0,235.2 L287.7,235.2 L288.3,235.2 L289.0,235.2 L289.6,235.2 L290.3,235.2 L290.9,235.2 L291.6,235.2 L292.2,235.2 L292.9,235.2 L293.6,235.2 L294.2,235.2 L294.9,235.2 L295.5,235.2 L296.2,235.2 L296.8,235.2 L297.5,235.2 L298.1,235.2 L298.8,235.2 L299.4,235.2 L300.1,235.3 L300.7,235.3 L301.4,235.3 L302.0,235.3 L302.7,235.3 L303.4,235.3 L304.0,235.3 L304.7,235.3 L305.3,235.3 L306.0,235.3 L306.6,235.3 L307.3,235.3 L307.9,235.3 L308.6,235.3 L309.2,235.3 L309.9,235.3 L310.5,235.3 L311.2,235.3 L311.8,235.3 L312.5,235.3 L313.2,235.3 L313.8,235.3 L314.5,235.3 L315.1,235.3 L315.8,235.3 L316.4,235.3 L317.1,235.3 L317.7,235.3 L318.4,235.3 L319.0,235.3 L319.7,235.3 L320.3,235.3 L321.0,235.3 L321.6,235.3 L322.3,235.3 L323.0,235.3 L323.6,235.3 L324.3,235.3 L324.9,235.3 L325.6,235.3 L326.2,235.3 L326.9,235.3 L327.5,235.3 L328.2,235.3 L328.8,235.3 L329.5,235.3 L330.1,235.3 L330.8,235.3 L331.4,235.3 L332.1,235.3 L332.7,235.3 L333.4,235.3 L334.1,235.3 L334.7,235.3 L335.4,235.3 L336.0,235.3 L336.7,235.3 L337.3,235.3 L338.0,235.3 L338.6,235.3 L339.3,235.3 L339.9,235.3 L340.6,235.3 L341.2,235.3 L341.9,235.3 L342.5,235.3 L343.2,235.3 L343.9,235.3 L344.5,235.3"/>
<path fill="none" stroke="#ff2424" stroke-width="1.0" d="M60.3,235.3 L61.0,235.3 L61.7,235.3 L62.3,235.3 L63.0,235.3 L63.6,235.3 L64.3,235.3 L64.9,235.3 L65.6,235.3 L66.2,235.3 L66.9,235.3 L67.5,235.3 L68.2,235.3 L68.8,235.3 L69.5,235.3 L70.1,235.3 L70.8,235.3 L71.4,235.3 L72.1,235.3 L72.8,235.3 L73.4,235.3 L74.1,235.3 L74.7,235.3 L75.4,235.3 L76.0,235.3 L76.7,235.3 L77.3,235.3 L78.0,235.3 L78.6,235.3 L79.3,235.3 L79.9,235.3 L80.6,235.3 L81.2,235.3 L81.9,235.3 L82.6,235.3 L83.2,235.3 L83.9,235.3 L84.5,235.2 L85.2,235.2 L85.8,235.2 L86.5,235.2 L87.1,235.2 L87.8,235.2 L88.4,235.2 L89.1,235.2 L89.7,235.2 L90.4,235.2 L91.0,235.2 L91.7,235.2 L92.4,235.2 L93.0,235.2 L93.7,235.2 L94.3,235.2 L95.0,235.2 L95.6,235.2 L96.3,235.2 L96.9,235.2 L97.6,235.2 L98.2,235.2 L98.9,235.2 L99.5,235.2 L100.2,235.2 L100.8,235.2 L101.5,235.2 L102.2,235.2 L102.8,235.2 L103.5,235.2 L104.1,235.2 L104.8,235.2 L105.4,235.2 L106.1,235.2 L106.7,235.2 L107.4,235.2 L108.0,235.2 L108.7,235.2 L109.3,235.2 L110.0,235.2 L110.6,235.2 L111.3,235.2 L112.0,235.2 L112.6,235.2 L113.3,235.2 L113.9,235.2 L114.6,235.2 L115.2,235.2 L115.9,235.2 L116.5,235.2 L117.2,235.2 L117.8,235.2 L118.5,235.2 L119.1,235.2 L119.8,235.1 L120.4,235.1 L121.1,235.1 L121.7,235.1 L122.4,235.1 L123.1,235.1 L123.7,235.1 L124.4,235.1 L125.0,235.1 L125.7,235.1 L126.3,235.1 L127.0,235.1 L127.6,235.1 L128.3,235.1 L128.9,235.1 L129.6,235.1 L130.2,235.1 L130.9,235.1 L131.5,235.1 L132.2,235.1 L132.9,235.1 L133.5,235.1 L134.2,235.1 L134.8,235.1 L135.5,235.1 L136.1,235.1 L136.8,235.1 L137.4,235.1 L138.1,235.0 L138.7,235.0 L139.4,235.0 L140.0,235.0 L140.7,235.0 L141.3,235.0 L142.0,235.0 L142.7,235.0 L143.3,235.0 L144.0,235.0 L144.6,235.0 L145.3,235.0 L145.9,235.0 L146.6,235.0 L147.2,235.0 L147.9,235.0 L148.5,235.0 L149.2,234.9 L149.8,234.9 L150.5,234.9 L151.1,234.9 L151.8,234.9 L152.5,234.9 L153.1,234.9 L153.8,234.9 L154.4,234.9 L155.1,234.9 L155.7,234.9 L156.4,234.9 L157.0,234.8 L157.7,234.8 L158.3,234.8 L159.0,234.8 L159.6,234.8 L160.3,234.8 L160.9,234.8 L161.6,234.8 L162.3,234.8 L162.9,234.7 L163.6,234.7 L164.2,234.7 L164.9,234.7 L165.5,234.7 L166.2,234.7 L166.8,234.7 L167.5,234.6 L168.1,234.6 L168.8,234.6 L169.4,234.6 L170.1,234.6 L170.7,234.6 L171.4,234.5 L172.0,234.5 L172.7,234.5 L173.4,234.5 L174.0,234.5 L174.7,234.4 L175.3,234.4 L176.0,234.4 L176.6,234.4 L177.3,234.3 L177.9,234.3 L178.6,234.3 L179.2,234.3 L179.9,234.2 L180.5,234.2 L181.2,234.2 L181.8,234.1 L182.5,234.1 L183.2,234.1 L183.8,234.0 L184.5,234.0 L185.1,233.9 L185.8,233.9 L186.4,233.8 L187.1,233.8 L187.7,233.8 L188.4,233.7 L189.0,233.6 L189.7,233.6 L190.3,233.5 L191.0,233.5 L191.6,233.4 L192.3,233.3 L193.0,233.2 L193.6,233.2 L194.3,233.1 L194.9,233.0 L195.6,232.9 L196.2,232.8 L196.9,232.7 L197.5,232.6 L198.2,232.5 L198.8,232.4 L199.5,232.2 L200.1,232.1 L200.8,231.9 L201.4,231.8 L202.1,231.6 L202.8,231.4 L203.4,231.1 L204.1,230.9 L204.7,230.6 L205.4,230.3 L206.0,229.9 L206.7,229.5 L207.3,229.0 L208.0,228.4 L208.6,227.7 L209.3,226.9 L209.9,225.9 L210.6,224.7 L211.2,223.2 L211.9,221.5 L212.6,219.4 L213.2,217.0 L213.9,214.2 L214.5,210.8 L215.2,207.0 L215.8,202.6 L216.5,197.5 L217.1,191.9 L217.8,185.6 L218.4,178.7 L219.1,171.2 L219.7,163.2 L220.4,154.7 L221.0,145.8 L221.7,136.7 L222.3,127.5 L223.0,118.4 L223.7,109.6 L224.3,101.4 L225.0,94.1 L225.6,87.8 L226.3,82.9 L226.9,79.5 L227.6,77.9 L228.2,78.1 L228.9,80.2 L229.5,83.9 L230.2,89.2 L230.8,95.8 L231.5,103.3 L232.1,111.7 L232.8,120.6 L233.5,129.7 L234.1,138.9 L234.8,148.0 L235.4,156.8 L236.1,165.2 L236.7,173.1 L237.4,180.4 L238.0,187.2 L238.7,193.3 L239.3,198.8 L240.0,203.7 L240.6,207.9 L241.3,211.7 L241.9,214.9 L242.6,217.6 L243.3,220.0 L243.9,221.9 L244.6,223.6 L245.2,225.0 L245.9,226.1 L246.5,227.1 L247.2,227.9 L247.8,228.6 L248.5,229.1 L249.1,229.6 L249.8,230.0 L250.4,230.4 L251.1,230.7 L251.7,231.0 L252.4,231.2 L253.1,231.4 L253.7,231.6 L254.4,231.8 L255.0,232.0 L255.7,232.1 L256.3,232.3 L257.0,232.4 L257.6,232.5 L258.3,232.6 L258.9,232.7 L259.6,232.8 L260.2,232.9 L260.9,233.0 L261.5,233.1 L262.2,233.2 L262.9,233.3 L263.5,233.3 L264.2,233.4 L264.8,233.5 L265.5,233.5 L266.1,233.6 L266.8,233.7 L267.4,233.7 L268.1,233.8 L268.7,233.8 L269.4,233.9 L270.0,233.9 L270.7,233.9 L271.3,234.0 L272.0,234.0 L272.6,234.1 L273.3,234.1 L274.0,234.1 L274.6,234.2 L275.3,234.2 L275.9,234.2 L276.6,234.3 L277.2,234.3 L277.9,234.3 L278.5,234.3 L279.2,234.4 L279.8,234.4 L280.5,234.4 L281.1,234.4 L281.8,234.5 L282.4,234.5 L283.1,234.5 L283.8,234.5 L284.4,234.5 L285.1,234.6 L285.7,234.6 L286.4,234.6 L287.0,234.6 L287.7,234.6 L288.3,234.7 L289.0,234.7 L289.6,234.7 L290.3,234.7 L290.9,234.7 L291.6,234.7 L292.2,234.7 L292.9,234.7 L293.6,234.8 L294.2,234.8 L294.9,234.8 L295.5,234.8 L296.2,234.8 L296.8,234.8 L297.5,234.8 L298.1,234.8 L298.8,234.8 L299.4,234.9 L300.1,234.9 L300.7,234.9 L301.4,234.9 L302.0,234.9 L302.7,234.9 L303.4,234.9 L304.0,234.9 L304.7,234.9 L305.3,234.9 L306.0,234.9 L306.6,234.9 L307.3,235.0 L307.9,235.0 L308.6,235.0 L309.2,235.0 L309.9,235.0 L310.5,235.0 L311.2,235.0 L311.8,235.0 L312.5,235.0 L313.2,235.0 L313.8,235.0 L314.5,235.0 L315.1,235.0 L315.8,235.0 L316.4,235.0 L317.1,235.0 L317.7,235.0 L318.4,235.1 L319.0,235.1 L319.7,235.1 L320.3,235.1 L321.0,235.1 L321.6,235.1 L322.3,235.1 L323.0,235.1 L323.6,235.1 L324.3,235.1 L324.9,235.1 L325.6,235.1 L326.2,235.1 L326.9,235.1 L327.5,235.1 L328.2,235.1 L328.8,235.1 L329.5,235.1 L330.1,235.1 L330.8,235.1 L331.4,235.1 L332.1,235.1 L332.7,235.1 L333.4,235.1 L334.1,235.1 L334.7,235.1 L335.4,235.1 L336.0,235.2 L336.7,235.2 L337.3,235.2 L338.0,235.2 L338.6,235.2 L339.3,235.2 L339.9,235.2 L340.6,235.2 L341.2,235.2 L341.9,235.2 L342.5,235.2 L343.2,235.2 L343.9,235.2 L344.5,235.2"/>
<path fill="none" stroke="#ff2424" stroke-width="1.0" d="M60.3,235.4 L61.0,235.4 L61.7,235.4 L62.3,235.4 L63.0,235.4 L63.6,235.4 L64.3,235.4 L64.9,235.4 L65.6,235.4 L66.2,235.4 L66.9,235.4 L67.5,235.4 L68.2,235.4 L68.8,235.4 L69.5,235.4 L70.1,235.4 L70.8,235.4 L71.4,235.4 L72.1,235.4 L72.8,235.4 L73.4,235.4 L74.1,235.4 L74.7,235.4 L75.4,235.4 L76.0,235.4 L76.7,235.4 L77.3,235.4 L78.0,235.4 L78.6,235.4 L79.3,235.4 L79.9,235.4 L80.6,235.4 L81.2,235.4 L81.9,235.4 L82.6,235.4 L83.2,235.4 L83.9,235.4 L84.5,235.4 L85.2,235.4 L85.8,235.4 L86.5,235.4 L87.1,235.4 L87.8,235.4 L88.4,235.4 L89.1,235.4 L89.7,235.4 L90.4,235.4 L91.0,235.4 L91.7,235.4 L92.4,235.4 L93.0,235.4 L93.7,235.4 L94.3,235.4 L95.0,235.4 L95.6,235.4 L96.3,235.4 L96.9,235.4 L97.6,235.4 L98.2,235.4 L98.9,235.4 L99.5,235.4 L100.2,235.4 L100.8,235.4 L101.5,235.4 L102.2,235.4 L102.8,235.4 L103.5,235.4 L104.1,235.4 L104.8,235.4 L105.4,235.4 L106.1,235.4 L106.7,235.4 L107.4,235.4 L108.0,235.4 L108.7,235.4 L109.3,235.4 L110.0,235.4 L110.6,235.4 L111.3,235.4 L112.0,235.4 L112.6,235.4 L113.3,235.4 L113.9,235.4 L114.6,235.4 L115.2,235.4 L115.9,235.4 L116.5,235.4 L117.2,235.4 L117.8,235.4 L118.5,235.4 L119.1,235.4 L119.8,235.4 L120.4,235.4 L121.1,235.4 L121.7,235.4 L122.4,235.4 L123.1,235.4 L123.7,235.4 L124.4,235.4 L125.0,235.4 L125.7,235.4 L126.3,235.4 L127.0,235.4 L127.6,235.4 L128.3,235.4 L128.9,235.4 L129.6,235.4 L130.2,235.4 L130.9,235.4 L131.5,235.4 L132.2,235.4 L132.9,235.4 L133.5,235.4 L134.2,235.4 L134.8,235.4 L135.5,235.4 L136.1,235.4 L136.8,235.4 L137.4,235.4 L138.1,235.4 L138.7,235.4 L139.4,235.4 L140.0,235.4 L140.7,235.4 L141.3,235.4 L142.0,235.4 L142.7,235.4 L143.3,235.4 L144.0,235.4 L144.6,235.4 L145.3,235.4 L145.9,235.4 L146.6,235.4 L147.2,235.4 L147.9,235.4 L148.5,235.4 L149.2,235.4 L149.8,235.4 L150.5,235.4 L151.1,235.4 L151.8,235.4 L152.5,235.4 L153.1,235.4 L153.8,235.4 L154.4,235.4 L155.1,235.4 L155.7,235.4 L156.4,235.4 L157.0,235.4 L157.7,235.4 L158.3,235.4 L159.0,235.4 L159.6,235.4 L160.3,235.4 L160.9,235.4 L161.6,235.4 L162.3,235.4 L162.9,235.4 L163.6,235.4 L164.2,235.4 L164.9,235.4 L165.5,235.4 L166.2,235.4 L166.8,235.4 L167.5,235.4 L168.1,235.4 L168.8,235.4 L169.4,235.4 L170.1,235.4 L170.7,235.4 L171.4,235.4 L172.0,235.4 L172.7,235.4 L173.4,235.4 L174.0,235.4 L174.7,235.4 L175.3,235.4 L176.0,235.4 L176.6,235.4 L177.3,235.4 L177.9,235.4 L178.6,235.4 L179.2,235.4 L179.9,235.4 L180.5,235.4 L181.2,235.4 L181.8,235.4 L182.5,235.4 L183.2,235.4 L183.8,235.4 L184.5,235.4 L185.1,235.3 L185.8,235.3 L186.4,235.3 L187.1,235.3 L187.7,235.3 L188.4,235.3 L189.0,235.3 L189.7,235.3 L190.3,235.3 L191.0,235.3 L191.6,235.3 L192.3,235.3 L193.0,235.3 L193.6,235.3 L194.3,235.3 L194.9,235.3 L195.6,235.3 L196.2,235.3 L196.9,235.3 L197.5,235.3 L198.2,235.3 L198.8,235.3 L199.5,235.3 L200.1,235.3 L200.8,235.3 L201.4,235.3 L202.1,235.3 L202.8,235.3 L203.4,235.3 L204.1,235.3 L204.7,235.3 L205.4,235.3 L206.0,235.3 L206.7,235.3 L207.3,235.3 L208.0,235.3 L208.6,235.3 L209.3,235.3 L209.9,235.3 L210.6,235.3 L211.2,235.3 L211.9,235.3 L212.6,235.3 L213.2,235.3 L213.9,235.3 L214.5,235.3 L215.2,235.3 L215.8,235.3 L216.5,235.3 L217.1,235.3 L217.8,235.3 L218.4,235.3 L219.1,235.2 L219.7,235.2 L220.4,235.2 L221.0,235.2 L221.7,235.2 L222.3,235.2 L223.0,235.2 L223.7,235.2 L224.3,235.2 L225.0,235.2 L225.6,235.2 L226.3,235.2 L226.9,235.1 L227.6,235.1 L228.2,235.1 L228.9,235.1 L229.5,235.1 L230.2,235.1 L230.8,235.0 L231.5,235.0 L232.1,235.0 L232.8,234.9 L233.5,234.9 L234.1,234.8 L234.8,234.7 L235.4,234.6 L236.1,234.4 L236.7,234.3 L237.4,234.1 L238.0,233.9 L238.7,233.6 L239.3,233.3 L240.0,232.9 L240.6,232.5 L241.3,232.0 L241.9,231.5 L242.6,230.9 L243.3,230.3 L243.9,229.7 L244.6,229.0 L245.2,228.4 L245.9,227.7 L246.5,227.1 L247.2,226.6 L247.8,226.1 L248.5,225.8 L249.1,225.6 L249.8,225.5 L250.4,225.6 L251.1,225.8 L251.7,226.1 L252.4,226.6 L253.1,227.1 L253.7,227.7 L254.4,228.4 L255.0,229.0 L255.7,229.7 L256.3,230.3 L257.0,230.9 L257.6,231.5 L258.3,232.0 L258.9,232.5 L259.6,232.9 L260.2,233.3 L260.9,233.6 L261.5,233.9 L262.2,234.1 L262.9,234.3 L263.5,234.4 L264.2,234.6 L264.8,234.7 L265.5,234.8 L266.1,234.9 L266.8,234.9 L267.4,235.0 L268.1,235.0 L268.7,235.0 L269.4,235.1 L270.0,235.1 L270.7,235.1 L271.3,235.1 L272.0,235.1 L272.6,235.1 L273.3,235.2 L274.0,235.2 L274.6,235.2 L275.3,235.2 L275.9,235.2 L276.6,235.2 L277.2,235.2 L277.9,235.2 L278.5,235.2 L279.2,235.2 L279.8,235.2 L280.5,235.2 L281.1,235.3 L281.8,235.3 L282.4,235.3 L283.1,235.3 L283.8,235.3 L284.4,235.3 L285.1,235.3 L285.7,235.3 L286.4,235.3 L287.0,235.3 L287.7,235.3 L288.3,235.3 L289.0,235.3 L289.6,235.3 L290.3,235.3 L290.9,235.3 L291.6,235.3 L292.2,235.3 L292.9,235.3 L293.6,235.3 L294.2,235.3 L294.9,235.3 L295.5,235.3 L296.2,235.3 L296.8,235.3 L297.5,235.3 L298.1,235.3 L298.8,235.3 L299.4,235.3 L300.1,235.3 L300.7,235.3 L301.4,235.3 L302.0,235.3 L302.7,235.3 L303.4,235.3 L304.0,235.3 L304.7,235.3 L305.3,235.3 L306.0,235.3 L306.6,235.3 L307.3,235.3 L307.9,235.3 L308.6,235.3 L309.2,235.3 L309.9,235.3 L310.5,235.3 L311.2,235.3 L311.8,235.3 L312.5,235.3 L313.2,235.3 L313.8,235.3 L314.5,235.3 L315.1,235.4 L315.8,235.4 L316.4,235.4 L317.1,235.4 L317.7,235.4 L318.4,235.4 L319.0,235.4 L319.7,235.4 L320.3,235.4 L321.0,235.4 L321.6,235.4 L322.3,235.4 L323.0,235.4 L323.6,235.4 L324.3,235.4 L324.9,235.4 L325.6,235.4 L326.2,235.4 L326.9,235.4 L327.5,235.4 L328.2,235.4 L328.8,235.4 L329.5,235.4 L330.1,235.4 L330.8,235.4 L331.4,235.4 L332.1,235.4 L332.7,235.4 L333.4,235.4 L334.1,235.4 L334.7,235.4 L335.4,235.4 L336.0,235.4 L336.7,235.4 L337.3,235.4 L338.0,235.4 L338.6,235.4 L339.3,235.4 L339.9,235.4 L340.6,235.4 L341.2,235.4 L341.9,235.4 L342.5,235.4 L343.2,235.4 L343.9,235.4 L344.5,235.4"/>
<path fill="none" stroke="#ff0000" stroke-width="1.5" stroke-linejoin="round" d="M60.3,235.0 L61.0,235.0 L61.7,235.0 L62.3,235.0 L63.0,235.0 L63.6,235.0 L64.3,235.0 L64.9,235.0 L65.6,235.0 L66.2,235.0 L66.9,235.0 L67.5,235.0 L68.2,235.0 L68.8,235.0 L69.5,235.0 L70.1,235.0 L70.8,235.0 L71.4,235.0 L72.1,235.0 L72.8,235.0 L73.4,235.0 L74.1,235.0 L74.7,235.0 L75.4,234.9 L76.0,234.9 L76.7,234.9 L77.3,234.9 L78.0,234.9 L78.6,234.9 L79.3,234.9 L79.9,234.9 L80.6,234.9 L81.2,234.9 L81.9,234.9 L82.6,234.9 L83.2,234.9 L83.9,234.9 L84.5,234.9 L85.2,234.8 L85.8,234.8 L86.5,234.8 L87.1,234.8 L87.8,234.8 L88.4,234.8 L89.1,234.8 L89.7,234.8 L90.4,234.8 L91.0,234.8 L91.7,234.8 L92.4,234.8 L93.0,234.7 L93.7,234.7 L94.3,234.7 L95.0,234.7 L95.6,234.7 L96.3,234.7 L96.9,234.7 L97.6,234.7 L98.2,234.6 L98.9,234.6 L99.5,234.6 L100.2,234.6 L100.8,234.6 L101.5,234.6 L102.2,234.6 L102.8,234.5 L103.5,234.5 L104.1,234.5 L104.8,234.5 L105.4,234.5 L106.1,234.5 L106.7,234.4 L107.4,234.4 L108.0,234.4 L108.7,234.4 L109.3,234.4 L110.0,234.3 L110.6,234.3 L111.3,234.3 L112.0,234.3 L112.6,234.2 L113.3,234.2 L113.9,234.2 L114.6,234.2 L115.2,234.1 L115.9,234.1 L116.5,234.1 L117.2,234.0 L117.8,234.0 L118.5,233.9 L119.1,233.9 L119.8,233.9 L120.4,233.8 L121.1,233.8 L121.7,233.7 L122.4,233.7 L123.1,233.6 L123.7,233.5 L124.4,233.5 L125.0,233.4 L125.7,233.3 L126.3,233.2 L127.0,233.1 L127.6,233.0 L128.3,232.9 L128.9,232.7 L129.6,232.5 L130.2,232.3 L130.9,232.1 L131.5,231.8 L132.2,231.5 L132.9,231.2 L133.5,230.8 L134.2,230.3 L134.8,229.8 L135.5,229.2 L136.1,228.5 L136.8,227.8 L137.4,226.9 L138.1,226.0 L138.7,225.0 L139.4,223.9 L140.0,222.7 L140.7,221.4 L141.3,220.1 L142.0,218.7 L142.7,217.2 L143.3,215.7 L144.0,214.2 L144.6,212.7 L145.3,211.1 L145.9,209.7 L146.6,208.3 L147.2,207.0 L147.9,205.8 L148.5,204.8 L149.2,204.0 L149.8,203.4 L150.5,203.0 L151.1,202.9 L151.8,203.0 L152.5,203.3 L153.1,203.9 L153.8,204.5 L154.4,205.4 L155.1,206.3 L155.7,207.2 L156.4,208.2 L157.0,209.1 L157.7,210.0 L158.3,210.7 L159.0,211.2 L159.6,211.6 L160.3,211.6 L160.9,211.4 L161.6,210.8 L162.3,209.9 L162.9,208.4 L163.6,206.5 L164.2,204.1 L164.9,201.2 L165.5,197.7 L166.2,193.6 L166.8,189.0 L167.5,183.9 L168.1,178.3 L168.8,172.2 L169.4,165.8 L170.1,159.2 L170.7,152.4 L171.4,145.7 L172.0,139.2 L172.7,133.0 L173.4,127.5 L174.0,122.7 L174.7,119.0 L175.3,116.4 L176.0,115.1 L176.6,115.2 L177.3,116.7 L177.9,119.5 L178.6,123.5 L179.2,128.5 L179.9,134.2 L180.5,140.5 L181.2,147.3 L181.8,154.2 L182.5,161.1 L183.2,168.0 L183.8,174.6 L184.5,181.0 L185.1,186.9 L185.8,192.4 L186.4,197.5 L187.1,202.0 L187.7,206.1 L188.4,209.7 L189.0,212.9 L189.7,215.6 L190.3,218.0 L191.0,219.9 L191.6,221.6 L192.3,223.0 L193.0,224.2 L193.6,225.1 L194.3,225.9 L194.9,226.5 L195.6,227.0 L196.2,227.4 L196.9,227.7 L197.5,228.0 L198.2,228.2 L198.8,228.3 L199.5,228.4 L200.1,228.5 L200.8,228.5 L201.4,228.5 L202.1,228.5 L202.8,228.4 L203.4,228.3 L204.1,228.2 L204.7,228.0 L205.4,227.8 L206.0,227.5 L206.7,227.2 L207.3,226.8 L208.0,226.3 L208.6,225.6 L209.3,224.9 L209.9,223.9 L210.6,222.8 L211.2,221.4 L211.9,219.7 L212.6,217.7 L213.2,215.3 L213.9,212.5 L214.5,209.2 L215.2,205.4 L215.8,201.1 L216.5,196.1 L217.1,190.5 L217.8,184.2 L218.4,177.4 L219.1,169.9 L219.7,161.9 L220.4,153.4 L221.0,144.5 L221.7,135.5 L222.3,126.3 L223.0,117.2 L223.7,108.5 L224.3,100.3 L225.0,92.9 L225.6,86.7 L226.3,81.8 L226.9,78.4 L227.6,76.8 L228.2,77.0 L228.9,79.1 L229.5,82.8 L230.2,88.1 L230.8,94.6 L231.5,102.2 L232.1,110.5 L232.8,119.4 L233.5,128.5 L234.1,137.6 L234.8,146.6 L235.4,155.3 L236.1,163.6 L236.7,171.4 L237.4,178.5 L238.0,185.1 L238.7,190.9 L239.3,196.1 L240.0,200.6 L240.6,204.5 L241.3,207.8 L241.9,210.5 L242.6,212.6 L243.3,214.4 L243.9,215.7 L244.6,216.7 L245.2,217.5 L245.9,218.0 L246.5,218.4 L247.2,218.6 L247.8,218.9 L248.5,219.1 L249.1,219.4 L249.8,219.7 L250.4,220.1 L251.1,220.7 L251.7,221.3 L252.4,222.0 L253.1,222.8 L253.7,223.6 L254.4,224.4 L255.0,225.2 L255.7,226.0 L256.3,226.8 L257.0,227.6 L257.6,228.3 L258.3,228.9 L258.9,229.5 L259.6,230.0 L260.2,230.5 L260.9,230.9 L261.5,231.3 L262.2,231.6 L262.9,231.9 L263.5,232.1 L264.2,232.3 L264.8,232.5 L265.5,232.6 L266.1,232.8 L266.8,232.9 L267.4,233.0 L268.1,233.1 L268.7,233.2 L269.4,233.3 L270.0,233.3 L270.7,233.4 L271.3,233.5 L272.0,233.5 L272.6,233.6 L273.3,233.6 L274.0,233.7 L274.6,233.7 L275.3,233.8 L275.9,233.8 L276.6,233.9 L277.2,233.9 L277.9,233.9 L278.5,234.0 L279.2,234.0 L279.8,234.0 L280.5,234.1 L281.1,234.1 L281.8,234.1 L282.4,234.2 L283.1,234.2 L283.8,234.2 L284.4,234.2 L285.1,234.3 L285.7,234.3 L286.4,234.3 L287.0,234.3 L287.7,234.3 L288.3,234.4 L289.0,234.4 L289.6,234.4 L290.3,234.4 L290.9,234.4 L291.6,234.5 L292.2,234.5 L292.9,234.5 L293.6,234.5 L294.2,234.5 L294.9,234.5 L295.5,234.6 L296.2,234.6 L296.8,234.6 L297.5,234.6 L298.1,234.6 L298.8,234.6 L299.4,234.6 L300.1,234.7 L300.7,234.7 L301.4,234.7 L302.0,234.7 L302.7,234.7 L303.4,234.7 L304.0,234.7 L304.7,234.7 L305.3,234.7 L306.0,234.8 L306.6,234.8 L307.3,234.8 L307.9,234.8 L308.6,234.8 L309.2,234.8 L309.9,234.8 L310.5,234.8 L311.2,234.8 L311.8,234.8 L312.5,234.8 L313.2,234.8 L313.8,234.9 L314.5,234.9 L315.1,234.9 L315.8,234.9 L316.4,234.9 L317.1,234.9 L317.7,234.9 L318.4,234.9 L319.0,234.9 L319.7,234.9 L320.3,234.9 L321.0,234.9 L321.6,234.9 L322.3,234.9 L323.0,234.9 L323.6,234.9 L324.3,235.0 L324.9,235.0 L325.6,235.0 L326.2,235.0 L326.9,235.0 L327.5,235.0 L328.2,235.0 L328.8,235.0 L329.5,235.0 L330.1,235.0 L330.8,235.0 L331.4,235.0 L332.1,235.0 L332.7,235.0 L333.4,235.0 L334.1,235.0 L334.7,235.0 L335.4,235.0 L336.0,235.0 L336.7,235.0 L337.3,235.0 L338.0,235.0 L338.6,235.0 L339.3,235.1 L339.9,235.1 L340.6,235.1 L341.2,235.1 L341.9,235.1 L342.5,235.1 L343.2,235.1 L343.9,235.1 L344.5,235.1"/>
<path fill="none" stroke="#2a9a2a" stroke-width="1.0" d="M35.8,457.8 L36.4,457.8 L37.1,457.8 L37.7,457.8 L38.4,457.8 L39.0,457.8 L39.7,457.8 L40.4,457.8 L41.0,457.8 L41.7,457.8 L42.3,457.8 L43.0,457.8 L43.6,457.8 L44.3,457.8 L44.9,457.8 L45.6,457.8 L46.2,457.8 L46.9,457.8 L47.5,457.8 L48.2,457.8 L48.8,457.8 L49.5,457.8 L50.2,457.8 L50.8,457.8 L51.5,457.8 L52.1,457.8 L52.8,457.8 L53.4,457.8 L54.1,457.8 L54.7,457.8 L55.4,457.8 L56.0,457.8 L56.7,457.8 L57.3,457.8 L58.0,457.8 L58.6,457.8 L59.3,457.8 L60.0,457.8 L60.6,457.8 L61.3,457.8 L61.9,457.8 L62.6,457.8 L63.2,457.8 L63.9,457.8 L64.5,457.8 L65.2,457.8 L65.8,457.7 L66.5,457.7 L67.1,457.7 L67.8,457.7 L68.4,457.7 L69.1,457.7 L69.8,457.7 L70.4,457.7 L71.1,457.7 L71.7,457.7 L72.4,457.7 L73.0,457.7 L73.7,457.7 L74.3,457.7 L75.0,457.7 L75.6,457.7 L76.3,457.7 L76.9,457.7 L77.6,457.7 L78.2,457.7 L78.9,457.7 L79.5,457.7 L80.2,457.7 L80.9,457.7 L81.5,457.7 L82.2,457.7 L82.8,457.7 L83.5,457.7 L84.1,457.7 L84.8,457.7 L85.4,457.7 L86.1,457.7 L86.7,457.7 L87.4,457.7 L88.0,457.7 L88.7,457.6 L89.3,457.6 L90.0,457.6 L90.7,457.6 L91.3,457.6 L92.0,457.6 L92.6,457.6 L93.3,457.6 L93.9,457.6 L94.6,457.6 L95.2,457.6 L95.9,457.6 L96.5,457.6 L97.2,457.6 L97.8,457.6 L98.5,457.6 L99.1,457.5 L99.8,457.5 L100.5,457.5 L101.1,457.5 L101.8,457.5 L102.4,457.5 L103.1,457.5 L103.7,457.5 L104.4,457.5 L105.0,457.5 L105.7,457.5 L106.3,457.4 L107.0,457.4 L107.6,457.4 L108.3,457.4 L108.9,457.4 L109.6,457.4 L110.3,457.4 L110.9,457.3 L111.6,457.3 L112.2,457.3 L112.9,457.3 L113.5,457.3 L114.2,457.2 L114.8,457.2 L115.5,457.2 L116.1,457.2 L116.8,457.1 L117.4,457.1 L118.1,457.1 L118.7,457.1 L119.4,457.0 L120.1,457.0 L120.7,457.0 L121.4,456.9 L122.0,456.9 L122.7,456.8 L123.3,456.8 L124.0,456.7 L124.6,456.7 L125.3,456.6 L125.9,456.5 L126.6,456.5 L127.2,456.4 L127.9,456.3 L128.5,456.1 L129.2,456.0 L129.8,455.8 L130.5,455.6 L131.2,455.3 L131.8,455.0 L132.5,454.7 L133.1,454.2 L133.8,453.7 L134.4,453.0 L135.1,452.3 L135.7,451.4 L136.4,450.3 L137.0,449.0 L137.7,447.6 L138.3,445.9 L139.0,444.0 L139.6,441.8 L140.3,439.4 L141.0,436.8 L141.6,433.9 L142.3,430.8 L142.9,427.6 L143.6,424.1 L144.2,420.6 L144.9,417.1 L145.5,413.5 L146.2,410.1 L146.8,406.9 L147.5,403.9 L148.1,401.3 L148.8,399.2 L149.4,397.7 L150.1,396.7 L150.8,396.4 L151.4,396.8 L152.1,397.9 L152.7,399.5 L153.4,401.7 L154.0,404.4 L154.7,407.4 L155.3,410.7 L156.0,414.1 L156.6,417.6 L157.3,421.2 L157.9,424.7 L158.6,428.1 L159.2,431.3 L159.9,434.4 L160.6,437.2 L161.2,439.8 L161.9,442.2 L162.5,444.3 L163.2,446.2 L163.8,447.8 L164.5,449.2 L165.1,450.5 L165.8,451.5 L166.4,452.4 L167.1,453.2 L167.7,453.8 L168.4,454.3 L169.0,454.7 L169.7,455.1 L170.4,455.4 L171.0,455.6 L171.7,455.8 L172.3,456.0 L173.0,456.1 L173.6,456.3 L174.3,456.4 L174.9,456.5 L175.6,456.5 L176.2,456.6 L176.9,456.7 L177.5,456.7 L178.2,456.8 L178.8,456.8 L179.5,456.9 L180.1,456.9 L180.8,457.0 L181.5,457.0 L182.1,457.0 L182.8,457.1 L183.4,457.1 L184.1,457.1 L184.7,457.2 L185.4,457.2 L186.0,457.2 L186.7,457.2 L187.3,457.2 L188.0,457.3 L188.6,457.3 L189.3,457.3 L189.9,457.3 L190.6,457.3 L191.3,457.4 L191.9,457.4 L192.6,457.4 L193.2,457.4 L193.9,457.4 L194.5,457.4 L195.2,457.4 L195.8,457.5 L196.5,457.5 L197.1,457.5 L197.8,457.5 L198.4,457.5 L199.1,457.5 L199.7,457.5 L200.4,457.5 L201.1,457.5 L201.7,457.5 L202.4,457.5 L203.0,457.6 L203.7,457.6 L204.3,457.6 L205.0,457.6 L205.6,457.6 L206.3,457.6 L206.9,457.6 L207.6,457.6 L208.2,457.6 L208.9,457.6 L209.5,457.6 L210.2,457.6 L210.9,457.6 L211.5,457.6 L212.2,457.6 L212.8,457.6 L213.5,457.7 L214.1,457.7 L214.8,457.7 L215.4,457.7 L216.1,457.7 L216.7,457.7 L217.4,457.7 L218.0,457.7 L218.7,457.7 L219.3,457.7 L220.0,457.7 L220.7,457.7 L221.3,457.7 L222.0,457.7 L222.6,457.7 L223.3,457.7 L223.9,457.7 L224.6,457.7 L225.2,457.7 L225.9,457.7 L226.5,457.7 L227.2,457.7 L227.8,457.7 L228.5,457.7 L229.1,457.7 L229.8,457.7 L230.4,457.7 L231.1,457.7 L231.8,457.7 L232.4,457.7 L233.1,457.7 L233.7,457.7 L234.4,457.7 L235.0,457.7 L235.7,457.8 L236.3,457.8 L237.0,457.8 L237.6,457.8 L238.3,457.8 L238.9,457.8 L239.6,457.8 L240.2,457.8 L240.9,457.8 L241.6,457.8 L242.2,457.8 L242.9,457.8 L243.5,457.8 L244.2,457.8 L244.8,457.8 L245.5,457.8 L246.1,457.8 L246.8,457.8 L247.4,457.8 L248.1,457.8 L248.7,457.8 L249.4,457.8 L250.0,457.8 L250.7,457.8 L251.4,457.8 L252.0,457.8 L252.7,457.8 L253.3,457.8 L254.0,457.8 L254.6,457.8 L255.3,457.8 L255.9,457.8 L256.6,457.8 L257.2,457.8 L257.9,457.8 L258.5,457.8 L259.2,457.8 L259.8,457.8 L260.5,457.8 L261.2,457.8 L261.8,457.8 L262.5,457.8 L263.1,457.8 L263.8,457.8 L264.4,457.8 L265.1,457.8 L265.7,457.8 L266.4,457.8 L267.0,457.8 L267.7,457.8 L268.3,457.8 L269.0,457.8 L269.6,457.8 L270.3,457.8 L271.0,457.8 L271.6,457.8 L272.3,457.8 L272.9,457.8 L273.6,457.8 L274.2,457.8 L274.9,457.8 L275.5,457.8 L276.2,457.8 L276.8,457.8 L277.5,457.8 L278.1,457.8 L278.8,457.8 L279.4,457.8 L280.1,457.8 L280.8,457.8 L281.4,457.8 L282.1,457.8 L282.7,457.8 L283.4,457.8 L284.0,457.8 L284.7,457.8 L285.3,457.8 L286.0,457.8 L286.6,457.8 L287.3,457.8 L287.9,457.8 L288.6,457.8 L289.2,457.8 L289.9,457.8 L290.5,457.8 L291.2,457.8 L291.9,457.8 L292.5,457.8 L293.2,457.8 L293.8,457.8 L294.5,457.8 L295.1,457.8 L295.8,457.8 L296.4,457.8 L297.1,457.8 L297.7,457.8 L298.4,457.8 L299.0,457.8 L299.7,457.8 L300.3,457.8 L301.0,457.8 L301.7,457.8 L302.3,457.8 L303.0,457.8 L303.6,457.8 L304.3,457.8 L304.9,457.8 L305.6,457.8 L306.2,457.8 L306.9,457.8 L307.5,457.8 L308.2,457.8 L308.8,457.8 L309.5,457.8 L310.1,457.8 L310.8,457.8 L311.5,457.8 L312.1,457.8 L312.8,457.8 L313.4,457.8 L314.1,457.8 L314.7,457.8 L315.4,457.8 L316.0,457.8 L316.7,457.8 L317.3,457.8 L318.0,457.8 L318.6,457.8 L319.3,457.8 L319.9,457.8 L320.6,457.8 L321.3,457.8 L321.9,457.8 L322.6,457.8 L323.2,457.8 L323.9,457.8 L324.5,457.8 L325.2,457.8 L325.8,457.8 L326.5,457.8 L327.1,457.8 L327.8,457.8 L328.4,457.8 L329.1,457.8 L329.7,457.8 L330.4,457.8 L331.1,457.8 L331.7,457.8 L332.4,457.8 L333.0,457.8 L333.7,457.8 L334.3,457.8 L335.0,457.8 L335.6,457.8 L336.3,457.8 L336.9,457.8 L337.6,457.8 L338.2,457.8 L338.9,457.8 L339.5,457.8 L340.2,457.8 L340.8,457.8 L341.5,457.8 L342.2,457.8 L342.8,457.8 L343.5,457.8 L344.1,457.8 L344.8,457.8 L345.4,457.8 L346.1,457.8 L346.7,457.8 L347.4,457.8 L348.0,457.8"/>
<path fill="none" stroke="#2a9a2a" stroke-width="1.0" d="M35.8,457.8 L36.4,457.8 L37.1,457.8 L37.7,457.8 L38.4,457.8 L39.0,457.8 L39.7,457.8 L40.4,457.8 L41.0,457.8 L41.7,457.7 L42.3,457.7 L43.0,457.7 L43.6,457.7 L44.3,457.7 L44.9,457.7 L45.6,457.7 L46.2,457.7 L46.9,457.7 L47.5,457.7 L48.2,457.7 L48.8,457.7 L49.5,457.7 L50.2,457.7 L50.8,457.7 L51.5,457.7 L52.1,457.7 L52.8,457.7 L53.4,457.7 L54.1,457.7 L54.7,457.7 L55.4,457.7 L56.0,457.7 L56.7,457.7 L57.3,457.7 L58.0,457.7 L58.6,457.7 L59.3,457.7 L60.0,457.7 L60.6,457.7 L61.3,457.7 L61.9,457.7 L62.6,457.7 L63.2,457.7 L63.9,457.7 L64.5,457.7 L65.2,457.7 L65.8,457.7 L66.5,457.7 L67.1,457.7 L67.8,457.7 L68.4,457.7 L69.1,457.7 L69.8,457.7 L70.4,457.7 L71.1,457.7 L71.7,457.7 L72.4,457.7 L73.0,457.7 L73.7,457.7 L74.3,457.7 L75.0,457.7 L75.6,457.7 L76.3,457.7 L76.9,457.6 L77.6,457.6 L78.2,457.6 L78.9,457.6 L79.5,457.6 L80.2,457.6 L80.9,457.6 L81.5,457.6 L82.2,457.6 L82.8,457.6 L83.5,457.6 L84.1,457.6 L84.8,457.6 L85.4,457.6 L86.1,457.6 L86.7,457.6 L87.4,457.6 L88.0,457.6 L88.7,457.6 L89.3,457.6 L90.0,457.6 L90.7,457.6 L91.3,457.6 L92.0,457.6 L92.6,457.6 L93.3,457.6 L93.9,457.5 L94.6,457.5 L95.2,457.5 L95.9,457.5 L96.5,457.5 L97.2,457.5 L97.8,457.5 L98.5,457.5 L99.1,457.5 L99.8,457.5 L100.5,457.5 L101.1,457.5 L101.8,457.5 L102.4,457.5 L103.1,457.5 L103.7,457.5 L104.4,457.4 L105.0,457.4 L105.7,457.4 L106.3,457.4 L107.0,457.4 L107.6,457.4 L108.3,457.4 L108.9,457.4 L109.6,457.4 L110.3,457.4 L110.9,457.4 L111.6,457.4 L112.2,457.3 L112.9,457.3 L113.5,457.3 L114.2,457.3 L114.8,457.3 L115.5,457.3 L116.1,457.3 L116.8,457.3 L117.4,457.2 L118.1,457.2 L118.7,457.2 L119.4,457.2 L120.1,457.2 L120.7,457.2 L121.4,457.2 L122.0,457.1 L122.7,457.1 L123.3,457.1 L124.0,457.1 L124.6,457.1 L125.3,457.0 L125.9,457.0 L126.6,457.0 L127.2,457.0 L127.9,457.0 L128.5,456.9 L129.2,456.9 L129.8,456.9 L130.5,456.9 L131.2,456.8 L131.8,456.8 L132.5,456.8 L133.1,456.7 L133.8,456.7 L134.4,456.7 L135.1,456.6 L135.7,456.6 L136.4,456.5 L137.0,456.5 L137.7,456.5 L138.3,456.4 L139.0,456.4 L139.6,456.3 L140.3,456.2 L141.0,456.2 L141.6,456.1 L142.3,456.1 L142.9,456.0 L143.6,455.9 L144.2,455.8 L144.9,455.8 L145.5,455.7 L146.2,455.6 L146.8,455.5 L147.5,455.4 L148.1,455.3 L148.8,455.2 L149.4,455.0 L150.1,454.9 L150.8,454.8 L151.4,454.6 L152.1,454.4 L152.7,454.3 L153.4,454.1 L154.0,453.8 L154.7,453.6 L155.3,453.3 L156.0,452.9 L156.6,452.5 L157.3,452.0 L157.9,451.5 L158.6,450.8 L159.2,449.9 L159.9,448.8 L160.6,447.5 L161.2,445.8 L161.9,443.8 L162.5,441.2 L163.2,438.2 L163.8,434.4 L164.5,430.0 L165.1,424.7 L165.8,418.4 L166.4,411.3 L167.1,403.1 L167.7,393.8 L168.4,383.6 L169.0,372.5 L169.7,360.5 L170.4,347.9 L171.0,334.9 L171.7,321.8 L172.3,308.8 L173.0,296.4 L173.6,285.1 L174.3,275.2 L174.9,267.1 L175.6,261.4 L176.2,258.3 L176.9,257.9 L177.5,260.4 L178.2,265.5 L178.8,273.0 L179.5,282.5 L180.1,293.6 L180.8,305.8 L181.5,318.6 L182.1,331.8 L182.8,344.8 L183.4,357.5 L184.1,369.7 L184.7,381.0 L185.4,391.5 L186.0,400.9 L186.7,409.4 L187.3,416.8 L188.0,423.3 L188.6,428.8 L189.3,433.4 L189.9,437.3 L190.6,440.6 L191.3,443.2 L191.9,445.4 L192.6,447.1 L193.2,448.5 L193.9,449.6 L194.5,450.6 L195.2,451.3 L195.8,451.9 L196.5,452.4 L197.1,452.8 L197.8,453.2 L198.4,453.5 L199.1,453.8 L199.7,454.0 L200.4,454.2 L201.1,454.4 L201.7,454.6 L202.4,454.7 L203.0,454.9 L203.7,455.0 L204.3,455.1 L205.0,455.3 L205.6,455.4 L206.3,455.5 L206.9,455.6 L207.6,455.7 L208.2,455.7 L208.9,455.8 L209.5,455.9 L210.2,456.0 L210.9,456.0 L211.5,456.1 L212.2,456.2 L212.8,456.2 L213.5,456.3 L214.1,456.3 L214.8,456.4 L215.4,456.4 L216.1,456.5 L216.7,456.5 L217.4,456.6 L218.0,456.6 L218.7,456.6 L219.3,456.7 L220.0,456.7 L220.7,456.8 L221.3,456.8 L222.0,456.8 L222.6,456.8 L223.3,456.9 L223.9,456.9 L224.6,456.9 L225.2,456.9 L225.9,457.0 L226.5,457.0 L227.2,457.0 L227.8,457.0 L228.5,457.1 L229.1,457.1 L229.8,457.1 L230.4,457.1 L231.1,457.1 L231.8,457.2 L232.4,457.2 L233.1,457.2 L233.7,457.2 L234.4,457.2 L235.0,457.2 L235.7,457.2 L236.3,457.3 L237.0,457.3 L237.6,457.3 L238.3,457.3 L238.9,457.3 L239.6,457.3 L240.2,457.3 L240.9,457.3 L241.6,457.4 L242.2,457.4 L242.9,457.4 L243.5,457.4 L244.2,457.4 L244.8,457.4 L245.5,457.4 L246.1,457.4 L246.8,457.4 L247.4,457.4 L248.1,457.4 L248.7,457.4 L249.4,457.5 L250.0,457.5 L250.7,457.5 L251.4,457.5 L252.0,457.5 L252.7,457.5 L253.3,457.5 L254.0,457.5 L254.6,457.5 L255.3,457.5 L255.9,457.5 L256.6,457.5 L257.2,457.5 L257.9,457.5 L258.5,457.5 L259.2,457.5 L259.8,457.6 L260.5,457.6 L261.2,457.6 L261.8,457.6 L262.5,457.6 L263.1,457.6 L263.8,457.6 L264.4,457.6 L265.1,457.6 L265.7,457.6 L266.4,457.6 L267.0,457.6 L267.7,457.6 L268.3,457.6 L269.0,457.6 L269.6,457.6 L270.3,457.6 L271.0,457.6 L271.6,457.6 L272.3,457.6 L272.9,457.6 L273.6,457.6 L274.2,457.6 L274.9,457.6 L275.5,457.6 L276.2,457.6 L276.8,457.7 L277.5,457.7 L278.1,457.7 L278.8,457.7 L279.4,457.7 L280.1,457.7 L280.8,457.7 L281.4,457.7 L282.1,457.7 L282.7,457.7 L283.4,457.7 L284.0,457.7 L284.7,457.7 L285.3,457.7 L286.0,457.7 L286.6,457.7 L287.3,457.7 L287.9,457.7 L288.6,457.7 L289.2,457.7 L289.9,457.7 L290.5,457.7 L291.2,457.7 L291.9,457.7 L292.5,457.7 L293.2,457.7 L293.8,457.7 L294.5,457.7 L295.1,457.7 L295.8,457.7 L296.4,457.7 L297.1,457.7 L297.7,457.7 L298.4,457.7 L299.0,457.7 L299.7,457.7 L300.3,457.7 L301.0,457.7 L301.7,457.7 L302.3,457.7 L303.0,457.7 L303.6,457.7 L304.3,457.7 L304.9,457.7 L305.6,457.7 L306.2,457.7 L306.9,457.7 L307.5,457.7 L308.2,457.7 L308.8,457.7 L309.5,457.7 L310.1,457.7 L310.8,457.7 L311.5,457.7 L312.1,457.8 L312.8,457.8 L313.4,457.8 L314.1,457.8 L314.7,457.8 L315.4,457.8 L316.0,457.8 L316.7,457.8 L317.3,457.8 L318.0,457.8 L318.6,457.8 L319.3,457.8 L319.9,457.8 L320.6,457.8 L321.3,457.8 L321.9,457.8 L322.6,457.8 L323.2,457.8 L323.9,457.8 L324.5,457.8 L325.2,457.8 L325.8,457.8 L326.5,457.8 L327.1,457.8 L327.8,457.8 L328.4,457.8 L329.1,457.8 L329.7,457.8 L330.4,457.8 L331.1,457.8 L331.7,457.8 L332.4,457.8 L333.0,457.8 L333.7,457.8 L334.3,457.8 L335.0,457.8 L335.6,457.8 L336.3,457.8 L336.9,457.8 L337.6,457.8 L338.2,457.8 L338.9,457.8 L339.5,457.8 L340.2,457.8 L340.8,457.8 L341.5,457.8 L342.2,457.8 L342.8,457.8 L343.5,457.8 L344.1,457.8 L344.8,457.8 L345.4,457.8 L346.1,457.8 L346.7,457.8 L347.4,457.8 L348.0,457.8"/>
<path fill="none" stroke="#2a9a2a" stroke-width="1.0" d="M35.8,457.9 L36.4,457.9 L37.1,457.9 L37.7,457.9 L38.4,457.9 L39.0,457.9 L39.7,457.9 L40.4,457.9 L41.0,457.9 L41.7,457.9 L42.3,457.9 L43.0,457.9 L43.6,457.9 L44.3,457.9 L44.9,457.9 L45.6,457.9 L46.2,457.9 L46.9,457.9 L47.5,457.9 L48.2,457.8 L48.8,457.8 L49.5,457.8 L50.2,457.8 L50.8,457.8 L51.5,457.8 L52.1,457.8 L52.8,457.8 L53.4,457.8 L54.1,457.8 L54.7,457.8 L55.4,457.8 L56.0,457.8 L56.7,457.8 L57.3,457.8 L58.0,457.8 L58.6,457.8 L59.3,457.8 L60.0,457.8 L60.6,457.8 L61.3,457.8 L61.9,457.8 L62.6,457.8 L63.2,457.8 L63.9,457.8 L64.5,457.8 L65.2,457.8 L65.8,457.8 L66.5,457.8 L67.1,457.8 L67.8,457.8 L68.4,457.8 L69.1,457.8 L69.8,457.8 L70.4,457.8 L71.1,457.8 L71.7,457.8 L72.4,457.8 L73.0,457.8 L73.7,457.8 L74.3,457.8 L75.0,457.8 L75.6,457.8 L76.3,457.8 L76.9,457.8 L77.6,457.8 L78.2,457.8 L78.9,457.8 L79.5,457.8 L80.2,457.8 L80.9,457.8 L81.5,457.8 L82.2,457.8 L82.8,457.8 L83.5,457.8 L84.1,457.8 L84.8,457.8 L85.4,457.8 L86.1,457.8 L86.7,457.8 L87.4,457.8 L88.0,457.8 L88.7,457.8 L89.3,457.8 L90.0,457.8 L90.7,457.8 L91.3,457.8 L92.0,457.8 L92.6,457.8 L93.3,457.8 L93.9,457.8 L94.6,457.8 L95.2,457.8 L95.9,457.8 L96.5,457.8 L97.2,457.8 L97.8,457.8 L98.5,457.8 L99.1,457.8 L99.8,457.8 L100.5,457.8 L101.1,457.8 L101.8,457.8 L102.4,457.8 L103.1,457.8 L103.7,457.8 L104.4,457.8 L105.0,457.8 L105.7,457.8 L106.3,457.8 L107.0,457.8 L107.6,457.8 L108.3,457.8 L108.9,457.8 L109.6,457.8 L110.3,457.8 L110.9,457.8 L111.6,457.8 L112.2,457.8 L112.9,457.8 L113.5,457.8 L114.2,457.8 L114.8,457.8 L115.5,457.8 L116.1,457.8 L116.8,457.8 L117.4,457.8 L118.1,457.8 L118.7,457.8 L119.4,457.8 L120.1,457.8 L120.7,457.8 L121.4,457.8 L122.0,457.8 L122.7,457.8 L123.3,457.8 L124.0,457.8 L124.6,457.8 L125.3,457.8 L125.9,457.8 L126.6,457.8 L127.2,457.8 L127.9,457.8 L128.5,457.8 L129.2,457.8 L129.8,457.8 L130.5,457.8 L131.2,457.8 L131.8,457.8 L132.5,457.8 L133.1,457.8 L133.8,457.8 L134.4,457.8 L135.1,457.8 L135.7,457.8 L136.4,457.8 L137.0,457.8 L137.7,457.8 L138.3,457.8 L139.0,457.8 L139.6,457.8 L140.3,457.8 L141.0,457.8 L141.6,457.8 L142.3,457.8 L142.9,457.8 L143.6,457.8 L144.2,457.8 L144.9,457.8 L145.5,457.8 L146.2,457.8 L146.8,457.8 L147.5,457.8 L148.1,457.8 L148.8,457.8 L149.4,457.8 L150.1,457.8 L150.8,457.8 L151.4,457.8 L152.1,457.8 L152.7,457.8 L153.4,457.8 L154.0,457.8 L154.7,457.7 L155.3,457.7 L156.0,457.7 L156.6,457.7 L157.3,457.7 L157.9,457.7 L158.6,457.7 L159.2,457.7 L159.9,457.7 L160.6,457.7 L161.2,457.7 L161.9,457.7 L162.5,457.7 L163.2,457.7 L163.8,457.7 L164.5,457.7 L165.1,457.7 L165.8,457.7 L166.4,457.7 L167.1,457.7 L167.7,457.7 L168.4,457.7 L169.0,457.7 L169.7,457.7 L170.4,457.7 L171.0,457.7 L171.7,457.7 L172.3,457.7 L173.0,457.7 L173.6,457.6 L174.3,457.6 L174.9,457.6 L175.6,457.6 L176.2,457.6 L176.9,457.6 L177.5,457.6 L178.2,457.6 L178.8,457.6 L179.5,457.6 L180.1,457.6 L180.8,457.6 L181.5,457.6 L182.1,457.6 L182.8,457.6 L183.4,457.5 L184.1,457.5 L184.7,457.5 L185.4,457.5 L186.0,457.5 L186.7,457.5 L187.3,457.5 L188.0,457.5 L188.6,457.5 L189.3,457.4 L189.9,457.4 L190.6,457.4 L191.3,457.4 L191.9,457.4 L192.6,457.4 L193.2,457.3 L193.9,457.3 L194.5,457.3 L195.2,457.3 L195.8,457.3 L196.5,457.2 L197.1,457.2 L197.8,457.2 L198.4,457.2 L199.1,457.1 L199.7,457.1 L200.4,457.1 L201.1,457.0 L201.7,457.0 L202.4,456.9 L203.0,456.9 L203.7,456.8 L204.3,456.8 L205.0,456.7 L205.6,456.7 L206.3,456.6 L206.9,456.5 L207.6,456.4 L208.2,456.3 L208.9,456.2 L209.5,456.1 L210.2,455.9 L210.9,455.7 L211.5,455.4 L212.2,455.1 L212.8,454.7 L213.5,454.2 L214.1,453.6 L214.8,452.8 L215.4,451.8 L216.1,450.6 L216.7,449.1 L217.4,447.2 L218.0,445.0 L218.7,442.4 L219.3,439.4 L220.0,436.0 L220.7,432.2 L221.3,427.9 L222.0,423.3 L222.6,418.5 L223.3,413.5 L223.9,408.4 L224.6,403.5 L225.2,398.9 L225.9,394.7 L226.5,391.3 L227.2,388.8 L227.8,387.3 L228.5,386.9 L229.1,387.7 L229.8,389.7 L230.4,392.6 L231.1,396.3 L231.8,400.7 L232.4,405.4 L233.1,410.4 L233.7,415.5 L234.4,420.4 L235.0,425.2 L235.7,429.7 L236.3,433.7 L237.0,437.4 L237.6,440.7 L238.3,443.5 L238.9,445.9 L239.6,448.0 L240.2,449.7 L240.9,451.1 L241.6,452.2 L242.2,453.1 L242.9,453.9 L243.5,454.4 L244.2,454.9 L244.8,455.3 L245.5,455.5 L246.1,455.8 L246.8,456.0 L247.4,456.1 L248.1,456.3 L248.7,456.4 L249.4,456.5 L250.0,456.5 L250.7,456.6 L251.4,456.7 L252.0,456.7 L252.7,456.8 L253.3,456.9 L254.0,456.9 L254.6,457.0 L255.3,457.0 L255.9,457.0 L256.6,457.1 L257.2,457.1 L257.9,457.1 L258.5,457.2 L259.2,457.2 L259.8,457.2 L260.5,457.2 L261.2,457.3 L261.8,457.3 L262.5,457.3 L263.1,457.3 L263.8,457.4 L264.4,457.4 L265.1,457.4 L265.7,457.4 L266.4,457.4 L267.0,457.4 L267.7,457.4 L268.3,457.5 L269.0,457.5 L269.6,457.5 L270.3,457.5 L271.0,457.5 L271.6,457.5 L272.3,457.5 L272.9,457.5 L273.6,457.5 L274.2,457.6 L274.9,457.6 L275.5,457.6 L276.2,457.6 L276.8,457.6 L277.5,457.6 L278.1,457.6 L278.8,457.6 L279.4,457.6 L280.1,457.6 L280.8,457.6 L281.4,457.6 L282.1,457.6 L282.7,457.6 L283.4,457.7 L284.0,457.7 L284.7,457.7 L285.3,457.7 L286.0,457.7 L286.6,457.7 L287.3,457.7 L287.9,457.7 L288.6,457.7 L289.2,457.7 L289.9,457.7 L290.5,457.7 L291.2,457.7 L291.9,457.7 L292.5,457.7 L293.2,457.7 L293.8,457.7 L294.5,457.7 L295.1,457.7 L295.8,457.7 L296.4,457.7 L297.1,457.7 L297.7,457.7 L298.4,457.7 L299.0,457.7 L299.7,457.7 L300.3,457.7 L301.0,457.7 L301.7,457.7 L302.3,457.7 L303.0,457.8 L303.6,457.8 L304.3,457.8 L304.9,457.8 L305.6,457.8 L306.2,457.8 L306.9,457.8 L307.5,457.8 L308.2,457.8 L308.8,457.8 L309.5,457.8 L310.1,457.8 L310.8,457.8 L311.5,457.8 L312.1,457.8 L312.8,457.8 L313.4,457.8 L314.1,457.8 L314.7,457.8 L315.4,457.8 L316.0,457.8 L316.7,457.8 L317.3,457.8 L318.0,457.8 L318.6,457.8 L319.3,457.8 L319.9,457.8 L320.6,457.8 L321.3,457.8 L321.9,457.8 L322.6,457.8 L323.2,457.8 L323.9,457.8 L324.5,457.8 L325.2,457.8 L325.8,457.8 L326.5,457.8 L327.1,457.8 L327.8,457.8 L328.4,457.8 L329.1,457.8 L329.7,457.8 L330.4,457.8 L331.1,457.8 L331.7,457.8 L332.4,457.8 L333.0,457.8 L333.7,457.8 L334.3,457.8 L335.0,457.8 L335.6,457.8 L336.3,457.8 L336.9,457.8 L337.6,457.8 L338.2,457.8 L338.9,457.8 L339.5,457.8 L340.2,457.8 L340.8,457.8 L341.5,457.8 L342.2,457.8 L342.8,457.8 L343.5,457.8 L344.1,457.8 L344.8,457.8 L345.4,457.8 L346.1,457.8 L346.7,457.8 L347.4,457.8 L348.0,457.8"/>
<path fill="none" stroke="#2a9a2a" stroke-width="1.0" d="M35.8,457.9 L36.4,457.9 L37.1,457.9 L37.7,457.9 L38.4,457.9 L39.0,457.9 L39.7,457.9 L40.4,457.9 L41.0,457.9 L41.7,457.9 L42.3,457.9 L43.0,457.9 L43.6,457.9 L44.3,457.9 L44.9,457.9 L45.6,457.9 L46.2,457.9 L46.9,457.9 L47.5,457.9 L48.2,457.9 L48.8,457.9 L49.5,457.9 L50.2,457.9 L50.8,457.9 L51.5,457.9 L52.1,457.9 L52.8,457.9 L53.4,457.9 L54.1,457.9 L54.7,457.9 L55.4,457.9 L56.0,457.9 L56.7,457.9 L57.3,457.9 L58.0,457.9 L58.6,457.9 L59.3,457.9 L60.0,457.9 L60.6,457.9 L61.3,457.9 L61.9,457.9 L62.6,457.9 L63.2,457.9 L63.9,457.9 L64.5,457.9 L65.2,457.9 L65.8,457.9 L66.5,457.9 L67.1,457.9 L67.8,457.9 L68.4,457.9 L69.1,457.9 L69.8,457.9 L70.4,457.9 L71.1,457.9 L71.7,457.9 L72.4,457.9 L73.0,457.9 L73.7,457.9 L74.3,457.9 L75.0,457.9 L75.6,457.9 L76.3,457.9 L76.9,457.9 L77.6,457.9 L78.2,457.9 L78.9,457.9 L79.5,457.9 L80.2,457.9 L80.9,457.9 L81.5,457.9 L82.2,457.9 L82.8,457.9 L83.5,457.9 L84.1,457.9 L84.8,457.9 L85.4,457.9 L86.1,457.9 L86.7,457.9 L87.4,457.9 L88.0,457.9 L88.7,457.9 L89.3,457.9 L90.0,457.9 L90.7,457.9 L91.3,457.9 L92.0,457.9 L92.6,457.9 L93.3,457.9 L93.9,457.9 L94.6,457.9 L95.2,457.9 L95.9,457.9 L96.5,457.9 L97.2,457.9 L97.8,457.9 L98.5,457.9 L99.1,457.9 L99.8,457.9 L100.5,457.9 L101.1,457.9 L101.8,457.9 L102.4,457.9 L103.1,457.9 L103.7,457.9 L104.4,457.9 L105.0,457.9 L105.7,457.9 L106.3,457.9 L107.0,457.9 L107.6,457.9 L108.3,457.9 L108.9,457.9 L109.6,457.9 L110.3,457.9 L110.9,457.9 L111.6,457.9 L112.2,457.9 L112.9,457.9 L113.5,457.9 L114.2,457.9 L114.8,457.9 L115.5,457.9 L116.1,457.9 L116.8,457.9 L117.4,457.9 L118.1,457.9 L118.7,457.9 L119.4,457.9 L120.1,457.9 L120.7,457.9 L121.4,457.9 L122.0,457.9 L122.7,457.9 L123.3,457.9 L124.0,457.8 L124.6,457.8 L125.3,457.8 L125.9,457.8 L126.6,457.8 L127.2,457.8 L127.9,457.8 L128.5,457.8 L129.2,457.8 L129.8,457.8 L130.5,457.8 L131.2,457.8 L131.8,457.8 L132.5,457.8 L133.1,457.8 L133.8,457.8 L134.4,457.8 L135.1,457.8 L135.7,457.8 L136.4,457.8 L137.0,457.8 L137.7,457.8 L138.3,457.8 L139.0,457.8 L139.6,457.8 L140.3,457.8 L141.0,457.8 L141.6,457.8 L142.3,457.8 L142.9,457.8 L143.6,457.8 L144.2,457.8 L144.9,457.8 L145.5,457.8 L146.2,457.8 L146.8,457.8 L147.5,457.8 L148.1,457.8 L148.8,457.8 L149.4,457.8 L150.1,457.8 L150.8,457.8 L151.4,457.8 L152.1,457.8 L152.7,457.8 L153.4,457.8 L154.0,457.8 L154.7,457.8 L155.3,457.8 L156.0,457.8 L156.6,457.8 L157.3,457.8 L157.9,457.8 L158.6,457.8 L159.2,457.8 L159.9,457.8 L160.6,457.8 L161.2,457.8 L161.9,457.8 L162.5,457.8 L163.2,457.8 L163.8,457.8 L164.5,457.8 L165.1,457.8 L165.8,457.8 L166.4,457.8 L167.1,457.8 L167.7,457.8 L168.4,457.8 L169.0,457.8 L169.7,457.8 L170.4,457.8 L171.0,457.8 L171.7,457.8 L172.3,457.8 L173.0,457.8 L173.6,457.8 L174.3,457.8 L174.9,457.8 L175.6,457.8 L176.2,457.8 L176.9,457.8 L177.5,457.8 L178.2,457.8 L178.8,457.8 L179.5,457.8 L180.1,457.8 L180.8,457.8 L181.5,457.8 L182.1,457.8 L182.8,457.8 L183.4,457.8 L184.1,457.8 L184.7,457.8 L185.4,457.8 L186.0,457.8 L186.7,457.8 L187.3,457.8 L188.0,457.8 L188.6,457.8 L189.3,457.8 L189.9,457.8 L190.6,457.8 L191.3,457.8 L191.9,457.8 L192.6,457.8 L193.2,457.8 L193.9,457.8 L194.5,457.8 L195.2,457.8 L195.8,457.8 L196.5,457.8 L197.1,457.8 L197.8,457.8 L198.4,457.8 L199.1,457.8 L199.7,457.7 L200.4,457.7 L201.1,457.7 L201.7,457.7 L202.4,457.7 L203.0,457.7 L203.7,457.7 L204.3,457.7 L205.0,457.7 L205.6,457.7 L206.3,457.7 L206.9,457.7 L207.6,457.7 L208.2,457.7 L208.9,457.7 L209.5,457.7 L210.2,457.7 L210.9,457.7 L211.5,457.7 L212.2,457.7 L212.8,457.7 L213.5,457.6 L214.1,457.6 L214.8,457.6 L215.4,457.6 L216.1,457.6 L216.7,457.6 L217.4,457.6 L218.0,457.6 L218.7,457.6 L219.3,457.6 L220.0,457.6 L220.7,457.5 L221.3,457.5 L222.0,457.5 L222.6,457.5 L223.3,457.5 L223.9,457.5 L224.6,457.4 L225.2,457.4 L225.9,457.4 L226.5,457.4 L227.2,457.3 L227.8,457.3 L228.5,457.3 L229.1,457.2 L229.8,457.2 L230.4,457.1 L231.1,457.1 L231.8,457.0 L232.4,456.9 L233.1,456.8 L233.7,456.6 L234.4,456.5 L235.0,456.3 L235.7,456.0 L236.3,455.7 L237.0,455.4 L237.6,454.9 L238.3,454.4 L238.9,453.8 L239.6,453.1 L240.2,452.4 L240.9,451.5 L241.6,450.5 L242.2,449.4 L242.9,448.1 L243.5,446.8 L244.2,445.4 L244.8,444.0 L245.5,442.5 L246.1,440.9 L246.8,439.4 L247.4,438.0 L248.1,436.6 L248.7,435.3 L249.4,434.3 L250.0,433.4 L250.7,432.8 L251.4,432.5 L252.0,432.5 L252.7,432.7 L253.3,433.3 L254.0,434.1 L254.6,435.1 L255.3,436.3 L255.9,437.7 L256.6,439.1 L257.2,440.6 L257.9,442.2 L258.5,443.7 L259.2,445.2 L259.8,446.6 L260.5,447.9 L261.2,449.1 L261.8,450.3 L262.5,451.3 L263.1,452.2 L263.8,453.0 L264.4,453.7 L265.1,454.3 L265.7,454.8 L266.4,455.3 L267.0,455.7 L267.7,456.0 L268.3,456.2 L269.0,456.4 L269.6,456.6 L270.3,456.8 L271.0,456.9 L271.6,457.0 L272.3,457.1 L272.9,457.1 L273.6,457.2 L274.2,457.2 L274.9,457.3 L275.5,457.3 L276.2,457.3 L276.8,457.4 L277.5,457.4 L278.1,457.4 L278.8,457.4 L279.4,457.5 L280.1,457.5 L280.8,457.5 L281.4,457.5 L282.1,457.5 L282.7,457.5 L283.4,457.5 L284.0,457.6 L284.7,457.6 L285.3,457.6 L286.0,457.6 L286.6,457.6 L287.3,457.6 L287.9,457.6 L288.6,457.6 L289.2,457.6 L289.9,457.6 L290.5,457.7 L291.2,457.7 L291.9,457.7 L292.5,457.7 L293.2,457.7 L293.8,457.7 L294.5,457.7 L295.1,457.7 L295.8,457.7 L296.4,457.7 L297.1,457.7 L297.7,457.7 L298.4,457.7 L299.0,457.7 L299.7,457.7 L300.3,457.7 L301.0,457.7 L301.7,457.7 L302.3,457.7 L303.0,457.7 L303.6,457.7 L304.3,457.8 L304.9,457.8 L305.6,457.8 L306.2,457.8 L306.9,457.8 L307.5,457.8 L308.2,457.8 L308.8,457.8 L309.5,457.8 L310.1,457.8 L310.8,457.8 L311.5,457.8 L312.1,457.8 L312.8,457.8 L313.4,457.8 L314.1,457.8 L314.7,457.8 L315.4,457.8 L316.0,457.8 L316.7,457.8 L317.3,457.8 L318.0,457.8 L318.6,457.8 L319.3,457.8 L319.9,457.8 L320.6,457.8 L321.3,457.8 L321.9,457.8 L322.6,457.8 L323.2,457.8 L323.9,457.8 L324.5,457.8 L325.2,457.8 L325.8,457.8 L326.5,457.8 L327.1,457.8 L327.8,457.8 L328.4,457.8 L329.1,457.8 L329.7,457.8 L330.4,457.8 L331.1,457.8 L331.7,457.8 L332.4,457.8 L333.0,457.8 L333.7,457.8 L334.3,457.8 L335.0,457.8 L335.6,457.8 L336.3,457.8 L336.9,457.8 L337.6,457.8 L338.2,457.8 L338.9,457.8 L339.5,457.8 L340.2,457.8 L340.8,457.8 L341.5,457.8 L342.2,457.8 L342.8,457.8 L343.5,457.8 L344.1,457.8 L344.8,457.8 L345.4,457.8 L346.1,457.8 L346.7,457.8 L347.4,457.8 L348.0,457.8"/>
<path fill="none" stroke="#158515" stroke-width="1.35" stroke-linejoin="round" d="M35.8,457.7 L36.4,457.7 L37.1,457.7 L37.7,457.7 L38.4,457.7 L39.0,457.7 L39.7,457.7 L40.4,457.7 L41.0,457.7 L41.7,457.6 L42.3,457.6 L43.0,457.6 L43.6,457.6 L44.3,457.6 L44.9,457.6 L45.6,457.6 L46.2,457.6 L46.9,457.6 L47.5,457.6 L48.2,457.6 L48.8,457.6 L49.5,457.6 L50.2,457.6 L50.8,457.6 L51.5,457.6 L52.1,457.6 L52.8,457.6 L53.4,457.6 L54.1,457.6 L54.7,457.6 L55.4,457.6 L56.0,457.6 L56.7,457.6 L57.3,457.6 L58.0,457.6 L58.6,457.6 L59.3,457.6 L60.0,457.6 L60.6,457.6 L61.3,457.6 L61.9,457.6 L62.6,457.6 L63.2,457.6 L63.9,457.5 L64.5,457.5 L65.2,457.5 L65.8,457.5 L66.5,457.5 L67.1,457.5 L67.8,457.5 L68.4,457.5 L69.1,457.5 L69.8,457.5 L70.4,457.5 L71.1,457.5 L71.7,457.5 L72.4,457.5 L73.0,457.5 L73.7,457.5 L74.3,457.5 L75.0,457.5 L75.6,457.5 L76.3,457.5 L76.9,457.4 L77.6,457.4 L78.2,457.4 L78.9,457.4 L79.5,457.4 L80.2,457.4 L80.9,457.4 L81.5,457.4 L82.2,457.4 L82.8,457.4 L83.5,457.4 L84.1,457.4 L84.8,457.4 L85.4,457.4 L86.1,457.3 L86.7,457.3 L87.4,457.3 L88.0,457.3 L88.7,457.3 L89.3,457.3 L90.0,457.3 L90.7,457.3 L91.3,457.3 L92.0,457.3 L92.6,457.3 L93.3,457.2 L93.9,457.2 L94.6,457.2 L95.2,457.2 L95.9,457.2 L96.5,457.2 L97.2,457.2 L97.8,457.2 L98.5,457.1 L99.1,457.1 L99.8,457.1 L100.5,457.1 L101.1,457.1 L101.8,457.1 L102.4,457.0 L103.1,457.0 L103.7,457.0 L104.4,457.0 L105.0,457.0 L105.7,457.0 L106.3,456.9 L107.0,456.9 L107.6,456.9 L108.3,456.9 L108.9,456.8 L109.6,456.8 L110.3,456.8 L110.9,456.8 L111.6,456.7 L112.2,456.7 L112.9,456.7 L113.5,456.6 L114.2,456.6 L114.8,456.6 L115.5,456.5 L116.1,456.5 L116.8,456.5 L117.4,456.4 L118.1,456.4 L118.7,456.3 L119.4,456.3 L120.1,456.2 L120.7,456.2 L121.4,456.1 L122.0,456.1 L122.7,456.0 L123.3,455.9 L124.0,455.9 L124.6,455.8 L125.3,455.7 L125.9,455.6 L126.6,455.5 L127.2,455.4 L127.9,455.2 L128.5,455.1 L129.2,454.9 L129.8,454.7 L130.5,454.5 L131.2,454.2 L131.8,453.9 L132.5,453.5 L133.1,453.0 L133.8,452.4 L134.4,451.7 L135.1,450.9 L135.7,450.0 L136.4,448.9 L137.0,447.5 L137.7,446.0 L138.3,444.3 L139.0,442.3 L139.6,440.1 L140.3,437.7 L141.0,435.0 L141.6,432.1 L142.3,428.9 L142.9,425.6 L143.6,422.1 L144.2,418.5 L144.9,414.8 L145.5,411.2 L146.2,407.7 L146.8,404.4 L147.5,401.3 L148.1,398.6 L148.8,396.4 L149.4,394.7 L150.1,393.6 L150.8,393.2 L151.4,393.4 L152.1,394.3 L152.7,395.8 L153.4,397.8 L154.0,400.2 L154.7,402.9 L155.3,405.9 L156.0,409.0 L156.6,412.1 L157.3,415.2 L157.9,418.1 L158.6,420.8 L159.2,423.2 L159.9,425.1 L160.6,426.6 L161.2,427.6 L161.9,427.9 L162.5,427.5 L163.2,426.3 L163.8,424.2 L164.5,421.1 L165.1,417.0 L165.8,411.9 L166.4,405.6 L167.1,398.1 L167.7,389.5 L168.4,379.8 L169.0,369.1 L169.7,357.5 L170.4,345.2 L171.0,332.4 L171.7,319.5 L172.3,306.7 L173.0,294.5 L173.6,283.2 L174.3,273.4 L174.9,265.4 L175.6,259.8 L176.2,256.7 L176.9,256.4 L177.5,258.9 L178.2,264.1 L178.8,271.7 L179.5,281.2 L180.1,292.3 L180.8,304.5 L181.5,317.4 L182.1,330.5 L182.8,343.6 L183.4,356.4 L184.1,368.5 L184.7,379.9 L185.4,390.4 L186.0,399.8 L186.7,408.3 L187.3,415.7 L188.0,422.2 L188.6,427.7 L189.3,432.3 L189.9,436.2 L190.6,439.5 L191.3,442.1 L191.9,444.3 L192.6,446.0 L193.2,447.4 L193.9,448.5 L194.5,449.5 L195.2,450.2 L195.8,450.8 L196.5,451.3 L197.1,451.7 L197.8,452.0 L198.4,452.3 L199.1,452.5 L199.7,452.7 L200.4,452.9 L201.1,453.1 L201.7,453.2 L202.4,453.3 L203.0,453.4 L203.7,453.5 L204.3,453.6 L205.0,453.7 L205.6,453.7 L206.3,453.8 L206.9,453.8 L207.6,453.8 L208.2,453.8 L208.9,453.7 L209.5,453.7 L210.2,453.6 L210.9,453.4 L211.5,453.2 L212.2,453.0 L212.8,452.6 L213.5,452.2 L214.1,451.6 L214.8,450.9 L215.4,449.9 L216.1,448.7 L216.7,447.2 L217.4,445.5 L218.0,443.3 L218.7,440.7 L219.3,437.8 L220.0,434.4 L220.7,430.5 L221.3,426.3 L222.0,421.7 L222.6,416.9 L223.3,411.9 L223.9,406.9 L224.6,402.0 L225.2,397.3 L225.9,393.2 L226.5,389.8 L227.2,387.2 L227.8,385.7 L228.5,385.4 L229.1,386.2 L229.8,388.1 L230.4,391.0 L231.1,394.7 L231.8,398.9 L232.4,403.6 L233.1,408.5 L233.7,413.5 L234.4,418.3 L235.0,422.8 L235.7,427.1 L236.3,430.9 L237.0,434.2 L237.6,437.0 L238.3,439.4 L238.9,441.2 L239.6,442.6 L240.2,443.5 L240.9,444.0 L241.6,444.2 L242.2,444.0 L242.9,443.5 L243.5,442.8 L244.2,441.9 L244.8,440.8 L245.5,439.6 L246.1,438.3 L246.8,437.0 L247.4,435.7 L248.1,434.5 L248.7,433.3 L249.4,432.4 L250.0,431.6 L250.7,431.1 L251.4,430.8 L252.0,430.9 L252.7,431.2 L253.3,431.8 L254.0,432.7 L254.6,433.8 L255.3,435.0 L255.9,436.4 L256.6,437.9 L257.2,439.5 L257.9,441.0 L258.5,442.6 L259.2,444.1 L259.8,445.5 L260.5,446.9 L261.2,448.1 L261.8,449.3 L262.5,450.3 L263.1,451.3 L263.8,452.1 L264.4,452.9 L265.1,453.5 L265.7,454.0 L266.4,454.5 L267.0,454.9 L267.7,455.2 L268.3,455.5 L269.0,455.7 L269.6,455.9 L270.3,456.1 L271.0,456.2 L271.6,456.3 L272.3,456.4 L272.9,456.5 L273.6,456.6 L274.2,456.6 L274.9,456.7 L275.5,456.7 L276.2,456.8 L276.8,456.8 L277.5,456.8 L278.1,456.9 L278.8,456.9 L279.4,456.9 L280.1,457.0 L280.8,457.0 L281.4,457.0 L282.1,457.0 L282.7,457.1 L283.4,457.1 L284.0,457.1 L284.7,457.1 L285.3,457.1 L286.0,457.2 L286.6,457.2 L287.3,457.2 L287.9,457.2 L288.6,457.2 L289.2,457.2 L289.9,457.3 L290.5,457.3 L291.2,457.3 L291.9,457.3 L292.5,457.3 L293.2,457.3 L293.8,457.3 L294.5,457.3 L295.1,457.3 L295.8,457.4 L296.4,457.4 L297.1,457.4 L297.7,457.4 L298.4,457.4 L299.0,457.4 L299.7,457.4 L300.3,457.4 L301.0,457.4 L301.7,457.4 L302.3,457.4 L303.0,457.4 L303.6,457.5 L304.3,457.5 L304.9,457.5 L305.6,457.5 L306.2,457.5 L306.9,457.5 L307.5,457.5 L308.2,457.5 L308.8,457.5 L309.5,457.5 L310.1,457.5 L310.8,457.5 L311.5,457.5 L312.1,457.5 L312.8,457.5 L313.4,457.5 L314.1,457.5 L314.7,457.5 L315.4,457.6 L316.0,457.6 L316.7,457.6 L317.3,457.6 L318.0,457.6 L318.6,457.6 L319.3,457.6 L319.9,457.6 L320.6,457.6 L321.3,457.6 L321.9,457.6 L322.6,457.6 L323.2,457.6 L323.9,457.6 L324.5,457.6 L325.2,457.6 L325.8,457.6 L326.5,457.6 L327.1,457.6 L327.8,457.6 L328.4,457.6 L329.1,457.6 L329.7,457.6 L330.4,457.6 L331.1,457.6 L331.7,457.6 L332.4,457.6 L333.0,457.6 L333.7,457.6 L334.3,457.6 L335.0,457.6 L335.6,457.7 L336.3,457.7 L336.9,457.7 L337.6,457.7 L338.2,457.7 L338.9,457.7 L339.5,457.7 L340.2,457.7 L340.8,457.7 L341.5,457.7 L342.2,457.7 L342.8,457.7 L343.5,457.7 L344.1,457.7 L344.8,457.7 L345.4,457.7 L346.1,457.7 L346.7,457.7 L347.4,457.7 L348.0,457.7"/>
<path d="M148.25,235.7V213.4A1.75,1.75 0 0 1 151.75,213.4V235.7Z" fill="#a02028" opacity="0.9"/>
<path d="M175.15,235.7V123.3A1.75,1.75 0 0 1 178.65,123.3V235.7Z" fill="#a02028" opacity="0.9"/>
<path d="M226.25,235.7V62.4A1.75,1.75 0 0 1 229.75,62.4V235.7Z" fill="#a02028" opacity="0.9"/>
<path d="M147.25,458.2V403.1A1.75,1.75 0 0 1 150.75,403.1V458.2Z" fill="#2b98a2" opacity="0.95"/>
<path d="M174.45,458.2V295.9A1.75,1.75 0 0 1 177.95,295.9V458.2Z" fill="#2b98a2" opacity="0.95"/>
<path d="M226.25,458.2V377.1A1.75,1.75 0 0 1 229.75,377.1V458.2Z" fill="#2b98a2" opacity="0.95"/>
<g stroke="#000" stroke-width="1.2" fill="none" stroke-linecap="butt">
<path d="M35.6,21.099999999999998V466.40000000000003M35.0,21.7H350M35.0,243.8H350M35.0,465.8H350"/>
<path stroke-width="1.6" d="M349.2,21.7V465.8"/>
<path d="M61.7,21.7v6.5M61.7,237.3v13.0M61.7,465.8v-6.5M94.3,21.7v3.7M94.3,240.1v7.4M94.3,465.8v-3.7M127.0,21.7v6.5M127.0,237.3v13.0M127.0,465.8v-6.5M159.6,21.7v3.7M159.6,240.1v7.4M159.6,465.8v-3.7M192.3,21.7v6.5M192.3,237.3v13.0M192.3,465.8v-6.5M225.0,21.7v3.7M225.0,240.1v7.4M225.0,465.8v-3.7M257.6,21.7v6.5M257.6,237.3v13.0M257.6,465.8v-6.5M290.3,21.7v3.7M290.3,240.1v7.4M290.3,465.8v-3.7M323.0,21.7v6.5M323.0,237.3v13.0M323.0,465.8v-6.5M35.6,233.8h6.2M349.2,233.8h-6M35.6,455.8h6.2M349.2,455.8h-6M35.6,184.4h6.2M349.2,184.4h-6M35.6,406.5h6.2M349.2,406.5h-6M35.6,135.0h6.2M349.2,135.0h-6M35.6,357.2h6.2M349.2,357.2h-6M35.6,85.6h6.2M349.2,85.6h-6M35.6,307.9h6.2M349.2,307.9h-6M35.6,36.2h6.2M349.2,36.2h-6M35.6,258.6h6.2M349.2,258.6h-6"/>
</g>
<g font-family="'Liberation Sans', sans-serif" font-size="16" fill="#000" stroke="#000" stroke-width="0.3">
<text x="28.6" y="239.2" text-anchor="end">0</text>
<text x="28.6" y="461.2" text-anchor="end">0</text>
<text x="28.6" y="189.8" text-anchor="end">1</text>
<text x="28.6" y="411.9" text-anchor="end">1</text>
<text x="28.6" y="140.4" text-anchor="end">2</text>
<text x="28.6" y="362.6" text-anchor="end">2</text>
<text x="28.6" y="91.0" text-anchor="end">3</text>
<text x="28.6" y="313.3" text-anchor="end">3</text>
<text x="28.6" y="41.6" text-anchor="end">4</text>
<text x="28.6" y="264.0" text-anchor="end">4</text>
<text x="60.8" y="485.6" text-anchor="middle">-100</text>
<text x="126.1" y="485.6" text-anchor="middle">-50</text>
<text x="192.3" y="485.6" text-anchor="middle">0</text>
<text x="257.6" y="485.6" text-anchor="middle">50</text>
<text x="323.0" y="485.6" text-anchor="middle">100</text>
<text x="192.4" y="500.6" text-anchor="middle">Frequency (MHz)</text>
<text transform="translate(12.7,232) rotate(-90)" text-anchor="middle">Fluorescence intensity (arb. units)</text>
<text x="188.6" y="15.9"><tspan font-size="10.5" dy="-7.2" dx="-12.6">85</tspan><tspan dy="7.2">Rb</tspan></text>
<text x="149.7" y="194" text-anchor="middle">2</text>
<text x="176.1" y="106.6" text-anchor="middle">3</text>
<text x="235.7" y="70">4</text>
<text x="245.2" y="204.4">(334)</text>
<text x="67" y="68.3"><tspan font-family="'Liberation Serif', 'DejaVu Serif', serif" font-size="17">π</tspan> perp. <tspan font-family="'Liberation Serif', 'DejaVu Serif', serif" font-size="17">π</tspan></text>
<text x="68.4" y="307.9"><tspan font-family="'Liberation Serif', 'DejaVu Serif', serif" font-size="17">π</tspan> par. <tspan font-family="'Liberation Serif', 'DejaVu Serif', serif" font-size="17">π</tspan></text>
</g>
</svg>
</body></html>
